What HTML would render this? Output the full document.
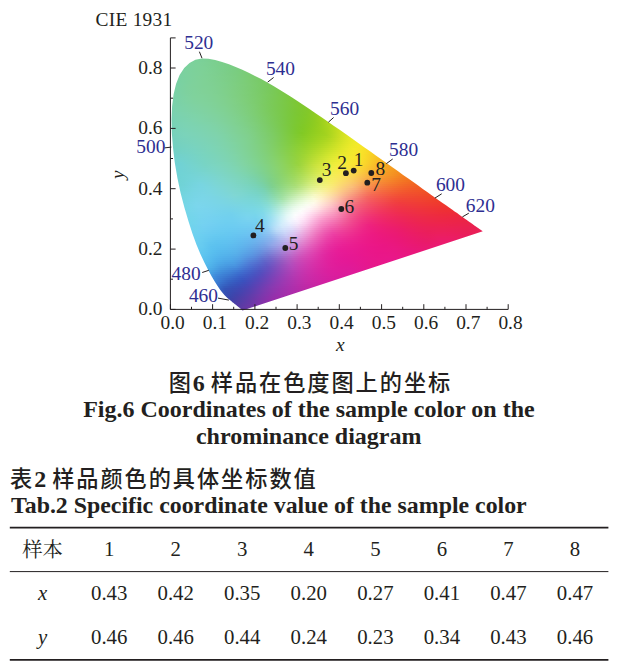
<!DOCTYPE html>
<html lang="zh"><head><meta charset="utf-8"><title>CIE 1931</title>
<style>html,body{margin:0;padding:0;background:#fff}svg{display:block}text{font-family:"Liberation Serif","Noto Serif CJK SC",serif;fill:#231f20}.c{font-size:19.4px}.n{fill:#2e2e91}.b{font-weight:bold;font-size:24px;font-family:"Liberation Serif","Noto Sans CJK SC",sans-serif}.k{font-weight:500;font-size:22.2px;letter-spacing:1.95px;font-family:"Noto Sans CJK SC",sans-serif}.t{font-size:20.8px}.i{font-style:italic}</style></head><body>
<svg width="619" height="665" viewBox="0 0 619 665">
<rect width="619" height="665" fill="#fff"/>
<defs><linearGradient id="g0" gradientUnits="userSpaceOnUse" x1="193" x2="217" y1="0" y2="0"><stop offset="0" stop-color="#7bd19b"/><stop offset="0.333" stop-color="#7bd098"/><stop offset="0.667" stop-color="#7bcf93"/><stop offset="1" stop-color="#7ace8d"/></linearGradient>
<linearGradient id="g1" gradientUnits="userSpaceOnUse" x1="189" x2="224" y1="0" y2="0"><stop offset="0" stop-color="#7bd19c"/><stop offset="0.2" stop-color="#7bd19a"/><stop offset="0.4" stop-color="#7bd097"/><stop offset="0.6" stop-color="#7bcf92"/><stop offset="0.8" stop-color="#7acf8d"/><stop offset="1" stop-color="#79cd89"/></linearGradient>
<linearGradient id="g2" gradientUnits="userSpaceOnUse" x1="186" x2="230" y1="0" y2="0"><stop offset="0" stop-color="#7bd19d"/><stop offset="0.167" stop-color="#7cd19b"/><stop offset="0.333" stop-color="#7cd198"/><stop offset="0.5" stop-color="#7cd094"/><stop offset="0.667" stop-color="#7bcf8f"/><stop offset="0.833" stop-color="#7ace8a"/><stop offset="1" stop-color="#79cd85"/></linearGradient>
<linearGradient id="g3" gradientUnits="userSpaceOnUse" x1="184" x2="235" y1="0" y2="0"><stop offset="0" stop-color="#7bd19e"/><stop offset="0.143" stop-color="#7cd19c"/><stop offset="0.286" stop-color="#7dd199"/><stop offset="0.429" stop-color="#7cd095"/><stop offset="0.571" stop-color="#7ccf90"/><stop offset="0.714" stop-color="#7bce8c"/><stop offset="0.857" stop-color="#7acd87"/><stop offset="1" stop-color="#78cc81"/></linearGradient>
<linearGradient id="g4" gradientUnits="userSpaceOnUse" x1="182" x2="240" y1="0" y2="0"><stop offset="0" stop-color="#7ad19f"/><stop offset="0.125" stop-color="#7cd19c"/><stop offset="0.25" stop-color="#7dd19a"/><stop offset="0.375" stop-color="#7dd196"/><stop offset="0.5" stop-color="#7cd092"/><stop offset="0.625" stop-color="#7bcf8d"/><stop offset="0.75" stop-color="#7ace88"/><stop offset="0.875" stop-color="#79cd83"/><stop offset="1" stop-color="#79cc7d"/></linearGradient>
<linearGradient id="g5" gradientUnits="userSpaceOnUse" x1="181" x2="245" y1="0" y2="0"><stop offset="0" stop-color="#7ad1a0"/><stop offset="0.125" stop-color="#7cd19d"/><stop offset="0.25" stop-color="#7dd199"/><stop offset="0.375" stop-color="#7dd196"/><stop offset="0.5" stop-color="#7cd091"/><stop offset="0.625" stop-color="#7bce8c"/><stop offset="0.75" stop-color="#7acd86"/><stop offset="0.875" stop-color="#79cc80"/><stop offset="1" stop-color="#79cb78"/></linearGradient>
<linearGradient id="g6" gradientUnits="userSpaceOnUse" x1="179" x2="249" y1="0" y2="0"><stop offset="0" stop-color="#7ad1a1"/><stop offset="0.111" stop-color="#7cd19e"/><stop offset="0.222" stop-color="#7dd19a"/><stop offset="0.333" stop-color="#7ed197"/><stop offset="0.444" stop-color="#7dd093"/><stop offset="0.556" stop-color="#7ccf8e"/><stop offset="0.667" stop-color="#7bce89"/><stop offset="0.778" stop-color="#7acd83"/><stop offset="0.889" stop-color="#7acc7c"/><stop offset="1" stop-color="#7acb73"/></linearGradient>
<linearGradient id="g7" gradientUnits="userSpaceOnUse" x1="178" x2="253" y1="0" y2="0"><stop offset="0" stop-color="#7ad0a1"/><stop offset="0.1" stop-color="#7cd19e"/><stop offset="0.2" stop-color="#7dd19b"/><stop offset="0.3" stop-color="#7ed198"/><stop offset="0.4" stop-color="#7ed194"/><stop offset="0.5" stop-color="#7dcf90"/><stop offset="0.6" stop-color="#7cce8b"/><stop offset="0.7" stop-color="#7bcd85"/><stop offset="0.8" stop-color="#7acd7f"/><stop offset="0.9" stop-color="#7acc77"/><stop offset="1" stop-color="#7acb6f"/></linearGradient>
<linearGradient id="g8" gradientUnits="userSpaceOnUse" x1="177" x2="257" y1="0" y2="0"><stop offset="0" stop-color="#79d0a2"/><stop offset="0.1" stop-color="#7cd19f"/><stop offset="0.2" stop-color="#7dd19b"/><stop offset="0.3" stop-color="#7ed198"/><stop offset="0.4" stop-color="#7ed093"/><stop offset="0.5" stop-color="#7dcf8f"/><stop offset="0.6" stop-color="#7cce89"/><stop offset="0.7" stop-color="#7bcd83"/><stop offset="0.8" stop-color="#7bcc7c"/><stop offset="0.9" stop-color="#7acc74"/><stop offset="1" stop-color="#79ca6b"/></linearGradient>
<linearGradient id="g9" gradientUnits="userSpaceOnUse" x1="176" x2="261" y1="0" y2="0"><stop offset="0" stop-color="#79d0a3"/><stop offset="0.091" stop-color="#7bd19f"/><stop offset="0.182" stop-color="#7dd19c"/><stop offset="0.273" stop-color="#7fd198"/><stop offset="0.364" stop-color="#7ed195"/><stop offset="0.455" stop-color="#7ed090"/><stop offset="0.545" stop-color="#7dcf8b"/><stop offset="0.636" stop-color="#7cce86"/><stop offset="0.727" stop-color="#7bcd7f"/><stop offset="0.818" stop-color="#7bcc77"/><stop offset="0.909" stop-color="#7acb6f"/><stop offset="1" stop-color="#79ca67"/></linearGradient>
<linearGradient id="g10" gradientUnits="userSpaceOnUse" x1="175" x2="265" y1="0" y2="0"><stop offset="0" stop-color="#79d0a4"/><stop offset="0.083" stop-color="#7bd1a0"/><stop offset="0.167" stop-color="#7dd19d"/><stop offset="0.25" stop-color="#7ed199"/><stop offset="0.333" stop-color="#7fd196"/><stop offset="0.417" stop-color="#7ed092"/><stop offset="0.5" stop-color="#7dcf8d"/><stop offset="0.583" stop-color="#7cce88"/><stop offset="0.667" stop-color="#7ccd82"/><stop offset="0.75" stop-color="#7bcd7b"/><stop offset="0.833" stop-color="#7bcc73"/><stop offset="0.917" stop-color="#7acb6b"/><stop offset="1" stop-color="#79c963"/></linearGradient>
<linearGradient id="g11" gradientUnits="userSpaceOnUse" x1="175" x2="268" y1="0" y2="0"><stop offset="0" stop-color="#79d0a4"/><stop offset="0.083" stop-color="#7bd1a0"/><stop offset="0.167" stop-color="#7dd19c"/><stop offset="0.25" stop-color="#7fd199"/><stop offset="0.333" stop-color="#7fd195"/><stop offset="0.417" stop-color="#7ed091"/><stop offset="0.5" stop-color="#7ecf8c"/><stop offset="0.583" stop-color="#7dce86"/><stop offset="0.667" stop-color="#7ccd80"/><stop offset="0.75" stop-color="#7ccd78"/><stop offset="0.833" stop-color="#7bcb70"/><stop offset="0.917" stop-color="#79ca68"/><stop offset="1" stop-color="#78c960"/></linearGradient>
<linearGradient id="g12" gradientUnits="userSpaceOnUse" x1="174" x2="272" y1="0" y2="0"><stop offset="0" stop-color="#78d0a5"/><stop offset="0.077" stop-color="#7bd1a1"/><stop offset="0.154" stop-color="#7dd19d"/><stop offset="0.231" stop-color="#7fd19a"/><stop offset="0.308" stop-color="#7fd196"/><stop offset="0.385" stop-color="#7fd093"/><stop offset="0.462" stop-color="#7ed08e"/><stop offset="0.538" stop-color="#7dcf89"/><stop offset="0.615" stop-color="#7dce82"/><stop offset="0.692" stop-color="#7ccd7b"/><stop offset="0.769" stop-color="#7ccc74"/><stop offset="0.846" stop-color="#7acb6c"/><stop offset="0.923" stop-color="#79ca64"/><stop offset="1" stop-color="#79c95a"/></linearGradient>
<linearGradient id="g13" gradientUnits="userSpaceOnUse" x1="173" x2="275" y1="0" y2="0"><stop offset="0" stop-color="#79d0a6"/><stop offset="0.077" stop-color="#7bd1a2"/><stop offset="0.154" stop-color="#7ed19d"/><stop offset="0.231" stop-color="#7fd19a"/><stop offset="0.308" stop-color="#7fd196"/><stop offset="0.385" stop-color="#7fd093"/><stop offset="0.462" stop-color="#7ed08e"/><stop offset="0.538" stop-color="#7ecf88"/><stop offset="0.615" stop-color="#7dce81"/><stop offset="0.692" stop-color="#7dcd7a"/><stop offset="0.769" stop-color="#7ccc72"/><stop offset="0.846" stop-color="#7acb69"/><stop offset="0.923" stop-color="#79c961"/><stop offset="1" stop-color="#79c955"/></linearGradient>
<linearGradient id="g14" gradientUnits="userSpaceOnUse" x1="173" x2="279" y1="0" y2="0"><stop offset="0" stop-color="#79d0a6"/><stop offset="0.071" stop-color="#7bd1a2"/><stop offset="0.143" stop-color="#7ed19d"/><stop offset="0.214" stop-color="#7fd19a"/><stop offset="0.286" stop-color="#7fd197"/><stop offset="0.357" stop-color="#7fd194"/><stop offset="0.429" stop-color="#7fd08f"/><stop offset="0.5" stop-color="#7ecf8a"/><stop offset="0.571" stop-color="#7ece83"/><stop offset="0.643" stop-color="#7dcd7c"/><stop offset="0.714" stop-color="#7ccc75"/><stop offset="0.786" stop-color="#7bcb6d"/><stop offset="0.857" stop-color="#79ca64"/><stop offset="0.929" stop-color="#79c95a"/><stop offset="1" stop-color="#79c84f"/></linearGradient>
<linearGradient id="g15" gradientUnits="userSpaceOnUse" x1="172" x2="282" y1="0" y2="0"><stop offset="0" stop-color="#79d0a7"/><stop offset="0.071" stop-color="#7bd1a2"/><stop offset="0.143" stop-color="#7ed19e"/><stop offset="0.214" stop-color="#7fd19b"/><stop offset="0.286" stop-color="#80d197"/><stop offset="0.357" stop-color="#7fd194"/><stop offset="0.429" stop-color="#7fd08f"/><stop offset="0.5" stop-color="#7fcf89"/><stop offset="0.571" stop-color="#7ece82"/><stop offset="0.643" stop-color="#7dcd7b"/><stop offset="0.714" stop-color="#7ccc73"/><stop offset="0.786" stop-color="#7acb6a"/><stop offset="0.857" stop-color="#79ca61"/><stop offset="0.929" stop-color="#79c956"/><stop offset="1" stop-color="#7ac84a"/></linearGradient>
<linearGradient id="g16" gradientUnits="userSpaceOnUse" x1="172" x2="285" y1="0" y2="0"><stop offset="0" stop-color="#79d1a7"/><stop offset="0.067" stop-color="#7bd1a3"/><stop offset="0.133" stop-color="#7ed19e"/><stop offset="0.2" stop-color="#7fd29b"/><stop offset="0.267" stop-color="#80d198"/><stop offset="0.333" stop-color="#80d195"/><stop offset="0.4" stop-color="#7fd091"/><stop offset="0.467" stop-color="#7fd08b"/><stop offset="0.533" stop-color="#7fcf85"/><stop offset="0.6" stop-color="#7ece7e"/><stop offset="0.667" stop-color="#7dcd76"/><stop offset="0.733" stop-color="#7bcc6e"/><stop offset="0.8" stop-color="#7aca65"/><stop offset="0.867" stop-color="#79c95c"/><stop offset="0.933" stop-color="#79c951"/><stop offset="1" stop-color="#7ac846"/></linearGradient>
<linearGradient id="g17" gradientUnits="userSpaceOnUse" x1="172" x2="289" y1="0" y2="0"><stop offset="0" stop-color="#79d1a8"/><stop offset="0.067" stop-color="#7cd1a3"/><stop offset="0.133" stop-color="#7ed19e"/><stop offset="0.2" stop-color="#7fd29b"/><stop offset="0.267" stop-color="#80d198"/><stop offset="0.333" stop-color="#80d195"/><stop offset="0.4" stop-color="#7fd090"/><stop offset="0.467" stop-color="#7fd08a"/><stop offset="0.533" stop-color="#7fcf83"/><stop offset="0.6" stop-color="#7ece7c"/><stop offset="0.667" stop-color="#7dcd74"/><stop offset="0.733" stop-color="#7bcb6b"/><stop offset="0.8" stop-color="#7aca61"/><stop offset="0.867" stop-color="#79c957"/><stop offset="0.933" stop-color="#7ac84b"/><stop offset="1" stop-color="#7bc840"/></linearGradient>
<linearGradient id="g18" gradientUnits="userSpaceOnUse" x1="171" x2="292" y1="0" y2="0"><stop offset="0" stop-color="#79d1a9"/><stop offset="0.062" stop-color="#7bd1a5"/><stop offset="0.125" stop-color="#7ed1a0"/><stop offset="0.188" stop-color="#7fd29c"/><stop offset="0.25" stop-color="#80d29a"/><stop offset="0.312" stop-color="#80d197"/><stop offset="0.375" stop-color="#80d192"/><stop offset="0.438" stop-color="#7fd08d"/><stop offset="0.5" stop-color="#7fcf86"/><stop offset="0.562" stop-color="#7fce7f"/><stop offset="0.625" stop-color="#7dcd77"/><stop offset="0.688" stop-color="#7ccc6f"/><stop offset="0.75" stop-color="#7bcb66"/><stop offset="0.812" stop-color="#7aca5c"/><stop offset="0.875" stop-color="#79c952"/><stop offset="0.938" stop-color="#7ac847"/><stop offset="1" stop-color="#7cc73c"/></linearGradient>
<linearGradient id="g19" gradientUnits="userSpaceOnUse" x1="171" x2="295" y1="0" y2="0"><stop offset="0" stop-color="#79d1a9"/><stop offset="0.062" stop-color="#7bd1a5"/><stop offset="0.125" stop-color="#7ed2a1"/><stop offset="0.188" stop-color="#80d29c"/><stop offset="0.25" stop-color="#80d29a"/><stop offset="0.312" stop-color="#80d197"/><stop offset="0.375" stop-color="#80d192"/><stop offset="0.438" stop-color="#80d08c"/><stop offset="0.5" stop-color="#7fcf85"/><stop offset="0.562" stop-color="#7fce7e"/><stop offset="0.625" stop-color="#7dcd76"/><stop offset="0.688" stop-color="#7ccc6d"/><stop offset="0.75" stop-color="#7acb63"/><stop offset="0.812" stop-color="#7ac959"/><stop offset="0.875" stop-color="#7ac94e"/><stop offset="0.938" stop-color="#7bc843"/><stop offset="1" stop-color="#7dc737"/></linearGradient>
<linearGradient id="g20" gradientUnits="userSpaceOnUse" x1="171" x2="298" y1="0" y2="0"><stop offset="0" stop-color="#79d1aa"/><stop offset="0.062" stop-color="#7cd1a6"/><stop offset="0.125" stop-color="#7ed2a1"/><stop offset="0.188" stop-color="#80d29d"/><stop offset="0.25" stop-color="#80d29b"/><stop offset="0.312" stop-color="#80d197"/><stop offset="0.375" stop-color="#80d192"/><stop offset="0.438" stop-color="#80d08c"/><stop offset="0.5" stop-color="#80cf85"/><stop offset="0.562" stop-color="#7fce7d"/><stop offset="0.625" stop-color="#7dcd74"/><stop offset="0.688" stop-color="#7ccc6b"/><stop offset="0.75" stop-color="#7aca60"/><stop offset="0.812" stop-color="#7ac955"/><stop offset="0.875" stop-color="#7ac94a"/><stop offset="0.938" stop-color="#7bc83f"/><stop offset="1" stop-color="#7ec733"/></linearGradient>
<linearGradient id="g21" gradientUnits="userSpaceOnUse" x1="171" x2="301" y1="0" y2="0"><stop offset="0" stop-color="#79d1ab"/><stop offset="0.059" stop-color="#7bd1a7"/><stop offset="0.118" stop-color="#7ed2a3"/><stop offset="0.176" stop-color="#7fd29f"/><stop offset="0.235" stop-color="#80d29c"/><stop offset="0.294" stop-color="#80d199"/><stop offset="0.353" stop-color="#80d194"/><stop offset="0.412" stop-color="#80d08f"/><stop offset="0.471" stop-color="#80d088"/><stop offset="0.529" stop-color="#7fcf80"/><stop offset="0.588" stop-color="#7ece78"/><stop offset="0.647" stop-color="#7ccc6f"/><stop offset="0.706" stop-color="#7bcb65"/><stop offset="0.765" stop-color="#7aca5a"/><stop offset="0.824" stop-color="#7ac950"/><stop offset="0.882" stop-color="#7ac845"/><stop offset="0.941" stop-color="#7cc73a"/><stop offset="1" stop-color="#7fc730"/></linearGradient>
<linearGradient id="g22" gradientUnits="userSpaceOnUse" x1="170" x2="304" y1="0" y2="0"><stop offset="0" stop-color="#79d1ac"/><stop offset="0.059" stop-color="#7bd1a8"/><stop offset="0.118" stop-color="#7dd2a4"/><stop offset="0.176" stop-color="#7fd2a0"/><stop offset="0.235" stop-color="#80d29d"/><stop offset="0.294" stop-color="#80d29a"/><stop offset="0.353" stop-color="#80d195"/><stop offset="0.412" stop-color="#80d08f"/><stop offset="0.471" stop-color="#80d088"/><stop offset="0.529" stop-color="#7fcf80"/><stop offset="0.588" stop-color="#7ecd77"/><stop offset="0.647" stop-color="#7ccc6d"/><stop offset="0.706" stop-color="#7bcb62"/><stop offset="0.765" stop-color="#7aca57"/><stop offset="0.824" stop-color="#7ac94c"/><stop offset="0.882" stop-color="#7bc841"/><stop offset="0.941" stop-color="#7cc735"/><stop offset="1" stop-color="#81c82d"/></linearGradient>
<linearGradient id="g23" gradientUnits="userSpaceOnUse" x1="170" x2="307" y1="0" y2="0"><stop offset="0" stop-color="#79d1ad"/><stop offset="0.056" stop-color="#7bd1a9"/><stop offset="0.111" stop-color="#7dd2a6"/><stop offset="0.167" stop-color="#7fd2a2"/><stop offset="0.222" stop-color="#80d29f"/><stop offset="0.278" stop-color="#80d29b"/><stop offset="0.333" stop-color="#80d197"/><stop offset="0.389" stop-color="#80d191"/><stop offset="0.444" stop-color="#80d08b"/><stop offset="0.5" stop-color="#7fcf83"/><stop offset="0.556" stop-color="#7ece7b"/><stop offset="0.611" stop-color="#7dcd72"/><stop offset="0.667" stop-color="#7ccb67"/><stop offset="0.722" stop-color="#7bca5c"/><stop offset="0.778" stop-color="#7ac952"/><stop offset="0.833" stop-color="#7ac847"/><stop offset="0.889" stop-color="#7bc83c"/><stop offset="0.944" stop-color="#7ec731"/><stop offset="1" stop-color="#83c82a"/></linearGradient>
<linearGradient id="g24" gradientUnits="userSpaceOnUse" x1="170" x2="310" y1="0" y2="0"><stop offset="0" stop-color="#79d1ad"/><stop offset="0.056" stop-color="#7bd2aa"/><stop offset="0.111" stop-color="#7dd2a7"/><stop offset="0.167" stop-color="#7fd2a3"/><stop offset="0.222" stop-color="#80d2a0"/><stop offset="0.278" stop-color="#80d29c"/><stop offset="0.333" stop-color="#80d197"/><stop offset="0.389" stop-color="#80d192"/><stop offset="0.444" stop-color="#80d08a"/><stop offset="0.5" stop-color="#7fcf83"/><stop offset="0.556" stop-color="#7ece7a"/><stop offset="0.611" stop-color="#7dcd70"/><stop offset="0.667" stop-color="#7ccb65"/><stop offset="0.722" stop-color="#7aca59"/><stop offset="0.778" stop-color="#7ac94e"/><stop offset="0.833" stop-color="#7ac843"/><stop offset="0.889" stop-color="#7cc738"/><stop offset="0.944" stop-color="#7fc72e"/><stop offset="1" stop-color="#86c928"/></linearGradient>
<linearGradient id="g25" gradientUnits="userSpaceOnUse" x1="170" x2="313" y1="0" y2="0"><stop offset="0" stop-color="#79d1ae"/><stop offset="0.056" stop-color="#7bd2ab"/><stop offset="0.111" stop-color="#7dd2a8"/><stop offset="0.167" stop-color="#7fd2a4"/><stop offset="0.222" stop-color="#80d2a1"/><stop offset="0.278" stop-color="#80d29d"/><stop offset="0.333" stop-color="#80d198"/><stop offset="0.389" stop-color="#80d192"/><stop offset="0.444" stop-color="#80d08a"/><stop offset="0.5" stop-color="#7fcf82"/><stop offset="0.556" stop-color="#7ece79"/><stop offset="0.611" stop-color="#7dcc6e"/><stop offset="0.667" stop-color="#7bcb62"/><stop offset="0.722" stop-color="#7aca56"/><stop offset="0.778" stop-color="#7ac94b"/><stop offset="0.833" stop-color="#7ac83f"/><stop offset="0.889" stop-color="#7cc734"/><stop offset="0.944" stop-color="#81c82b"/><stop offset="1" stop-color="#8aca26"/></linearGradient>
<linearGradient id="g26" gradientUnits="userSpaceOnUse" x1="170" x2="316" y1="0" y2="0"><stop offset="0" stop-color="#79d1af"/><stop offset="0.053" stop-color="#7bd2ac"/><stop offset="0.105" stop-color="#7dd2a9"/><stop offset="0.158" stop-color="#7ed2a6"/><stop offset="0.211" stop-color="#7fd2a3"/><stop offset="0.263" stop-color="#80d29f"/><stop offset="0.316" stop-color="#80d29a"/><stop offset="0.368" stop-color="#80d194"/><stop offset="0.421" stop-color="#80d08e"/><stop offset="0.474" stop-color="#7fcf86"/><stop offset="0.526" stop-color="#7ece7d"/><stop offset="0.579" stop-color="#7dcd73"/><stop offset="0.632" stop-color="#7ccc67"/><stop offset="0.684" stop-color="#7bca5b"/><stop offset="0.737" stop-color="#7ac950"/><stop offset="0.789" stop-color="#7ac845"/><stop offset="0.842" stop-color="#7bc739"/><stop offset="0.895" stop-color="#7ec72f"/><stop offset="0.947" stop-color="#83c829"/><stop offset="1" stop-color="#8fcc23"/></linearGradient>
<linearGradient id="g27" gradientUnits="userSpaceOnUse" x1="170" x2="319" y1="0" y2="0"><stop offset="0" stop-color="#78d1b0"/><stop offset="0.053" stop-color="#7bd2ae"/><stop offset="0.105" stop-color="#7dd2ab"/><stop offset="0.158" stop-color="#7ed3a7"/><stop offset="0.211" stop-color="#7fd2a4"/><stop offset="0.263" stop-color="#80d2a0"/><stop offset="0.316" stop-color="#80d29b"/><stop offset="0.368" stop-color="#80d195"/><stop offset="0.421" stop-color="#80d08e"/><stop offset="0.474" stop-color="#7fcf85"/><stop offset="0.526" stop-color="#7ece7c"/><stop offset="0.579" stop-color="#7dcd71"/><stop offset="0.632" stop-color="#7ccb65"/><stop offset="0.684" stop-color="#7bca59"/><stop offset="0.737" stop-color="#7ac94d"/><stop offset="0.789" stop-color="#7ac841"/><stop offset="0.842" stop-color="#7bc735"/><stop offset="0.895" stop-color="#7fc82c"/><stop offset="0.947" stop-color="#86c926"/><stop offset="1" stop-color="#95ce21"/></linearGradient>
<linearGradient id="g28" gradientUnits="userSpaceOnUse" x1="170" x2="322" y1="0" y2="0"><stop offset="0" stop-color="#78d1b1"/><stop offset="0.053" stop-color="#7bd2af"/><stop offset="0.105" stop-color="#7dd2ac"/><stop offset="0.158" stop-color="#7ed3a9"/><stop offset="0.211" stop-color="#7fd3a5"/><stop offset="0.263" stop-color="#80d2a1"/><stop offset="0.316" stop-color="#80d29c"/><stop offset="0.368" stop-color="#80d195"/><stop offset="0.421" stop-color="#80d08e"/><stop offset="0.474" stop-color="#7fcf85"/><stop offset="0.526" stop-color="#7ece7b"/><stop offset="0.579" stop-color="#7dcd6f"/><stop offset="0.632" stop-color="#7ccb63"/><stop offset="0.684" stop-color="#7bca56"/><stop offset="0.737" stop-color="#7ac94a"/><stop offset="0.789" stop-color="#7ac83d"/><stop offset="0.842" stop-color="#7cc731"/><stop offset="0.895" stop-color="#81c829"/><stop offset="0.947" stop-color="#8ccb23"/><stop offset="1" stop-color="#9cd020"/></linearGradient>
<linearGradient id="g29" gradientUnits="userSpaceOnUse" x1="170" x2="325" y1="0" y2="0"><stop offset="0" stop-color="#78d1b2"/><stop offset="0.05" stop-color="#7ad2b0"/><stop offset="0.1" stop-color="#7cd2ad"/><stop offset="0.15" stop-color="#7ed3aa"/><stop offset="0.2" stop-color="#7fd3a7"/><stop offset="0.25" stop-color="#80d2a3"/><stop offset="0.3" stop-color="#80d29e"/><stop offset="0.35" stop-color="#80d198"/><stop offset="0.4" stop-color="#80d191"/><stop offset="0.45" stop-color="#7fd089"/><stop offset="0.5" stop-color="#7ecf80"/><stop offset="0.55" stop-color="#7dcd75"/><stop offset="0.6" stop-color="#7ccc69"/><stop offset="0.65" stop-color="#7bcb5c"/><stop offset="0.7" stop-color="#7ac950"/><stop offset="0.75" stop-color="#7ac843"/><stop offset="0.8" stop-color="#7bc836"/><stop offset="0.85" stop-color="#7ec82c"/><stop offset="0.9" stop-color="#85c926"/><stop offset="0.95" stop-color="#92cd21"/><stop offset="1" stop-color="#a4d31f"/></linearGradient>
<linearGradient id="g30" gradientUnits="userSpaceOnUse" x1="170" x2="328" y1="0" y2="0"><stop offset="0" stop-color="#78d1b3"/><stop offset="0.05" stop-color="#7ad2b1"/><stop offset="0.1" stop-color="#7cd2af"/><stop offset="0.15" stop-color="#7ed3ac"/><stop offset="0.2" stop-color="#7fd3a8"/><stop offset="0.25" stop-color="#7fd2a4"/><stop offset="0.3" stop-color="#80d29f"/><stop offset="0.35" stop-color="#80d199"/><stop offset="0.4" stop-color="#80d191"/><stop offset="0.45" stop-color="#7fd089"/><stop offset="0.5" stop-color="#7ece7f"/><stop offset="0.55" stop-color="#7dcd74"/><stop offset="0.6" stop-color="#7ccc67"/><stop offset="0.65" stop-color="#7bca5a"/><stop offset="0.7" stop-color="#7ac94d"/><stop offset="0.75" stop-color="#7ac83f"/><stop offset="0.8" stop-color="#7cc832"/><stop offset="0.85" stop-color="#80c829"/><stop offset="0.9" stop-color="#89ca23"/><stop offset="0.95" stop-color="#99cf1f"/><stop offset="1" stop-color="#acd61e"/></linearGradient>
<linearGradient id="g31" gradientUnits="userSpaceOnUse" x1="170" x2="330" y1="0" y2="0"><stop offset="0" stop-color="#78d1b4"/><stop offset="0.05" stop-color="#7ad2b2"/><stop offset="0.1" stop-color="#7cd3b0"/><stop offset="0.15" stop-color="#7ed3ad"/><stop offset="0.2" stop-color="#7fd3a9"/><stop offset="0.25" stop-color="#7fd2a5"/><stop offset="0.3" stop-color="#80d2a0"/><stop offset="0.35" stop-color="#80d199"/><stop offset="0.4" stop-color="#80d192"/><stop offset="0.45" stop-color="#7fd089"/><stop offset="0.5" stop-color="#7ece7f"/><stop offset="0.55" stop-color="#7dcd73"/><stop offset="0.6" stop-color="#7ccc66"/><stop offset="0.65" stop-color="#7bca59"/><stop offset="0.7" stop-color="#7ac94b"/><stop offset="0.75" stop-color="#7ac83c"/><stop offset="0.8" stop-color="#7cc82f"/><stop offset="0.85" stop-color="#82c927"/><stop offset="0.9" stop-color="#8dcb21"/><stop offset="0.95" stop-color="#9dd01e"/><stop offset="1" stop-color="#b0d71e"/></linearGradient>
<linearGradient id="g32" gradientUnits="userSpaceOnUse" x1="170" x2="333" y1="0" y2="0"><stop offset="0" stop-color="#77d1b5"/><stop offset="0.048" stop-color="#7ad2b4"/><stop offset="0.095" stop-color="#7cd3b2"/><stop offset="0.143" stop-color="#7dd3af"/><stop offset="0.19" stop-color="#7ed3ab"/><stop offset="0.238" stop-color="#7fd3a8"/><stop offset="0.286" stop-color="#80d2a3"/><stop offset="0.333" stop-color="#80d29c"/><stop offset="0.381" stop-color="#80d195"/><stop offset="0.429" stop-color="#7fd08d"/><stop offset="0.476" stop-color="#7fcf84"/><stop offset="0.524" stop-color="#7ece79"/><stop offset="0.571" stop-color="#7dcc6c"/><stop offset="0.619" stop-color="#7bcb5f"/><stop offset="0.667" stop-color="#7bca51"/><stop offset="0.714" stop-color="#7ac943"/><stop offset="0.762" stop-color="#7bc835"/><stop offset="0.81" stop-color="#7fc82a"/><stop offset="0.857" stop-color="#87ca23"/><stop offset="0.905" stop-color="#93cd1f"/><stop offset="0.952" stop-color="#a5d31e"/><stop offset="1" stop-color="#b6d91e"/></linearGradient>
<linearGradient id="g33" gradientUnits="userSpaceOnUse" x1="170" x2="336" y1="0" y2="0"><stop offset="0" stop-color="#77d1b6"/><stop offset="0.048" stop-color="#7ad2b5"/><stop offset="0.095" stop-color="#7cd3b3"/><stop offset="0.143" stop-color="#7dd3b0"/><stop offset="0.19" stop-color="#7ed3ad"/><stop offset="0.238" stop-color="#7fd3a9"/><stop offset="0.286" stop-color="#80d2a4"/><stop offset="0.333" stop-color="#80d29d"/><stop offset="0.381" stop-color="#80d195"/><stop offset="0.429" stop-color="#7fd08d"/><stop offset="0.476" stop-color="#7fcf83"/><stop offset="0.524" stop-color="#7ece78"/><stop offset="0.571" stop-color="#7dcc6b"/><stop offset="0.619" stop-color="#7bcb5d"/><stop offset="0.667" stop-color="#7bc94e"/><stop offset="0.714" stop-color="#7bc83f"/><stop offset="0.762" stop-color="#7cc830"/><stop offset="0.81" stop-color="#81c926"/><stop offset="0.857" stop-color="#8bcb21"/><stop offset="0.905" stop-color="#99cf1e"/><stop offset="0.952" stop-color="#abd51e"/><stop offset="1" stop-color="#bddb1f"/></linearGradient>
<linearGradient id="g34" gradientUnits="userSpaceOnUse" x1="170" x2="339" y1="0" y2="0"><stop offset="0" stop-color="#77d1b7"/><stop offset="0.045" stop-color="#79d2b6"/><stop offset="0.091" stop-color="#7cd3b4"/><stop offset="0.136" stop-color="#7dd3b2"/><stop offset="0.182" stop-color="#7ed3af"/><stop offset="0.227" stop-color="#7fd3ab"/><stop offset="0.273" stop-color="#7fd3a6"/><stop offset="0.318" stop-color="#80d2a0"/><stop offset="0.364" stop-color="#80d199"/><stop offset="0.409" stop-color="#80d191"/><stop offset="0.455" stop-color="#7fcf88"/><stop offset="0.5" stop-color="#7ece7d"/><stop offset="0.545" stop-color="#7dcd71"/><stop offset="0.591" stop-color="#7ccb64"/><stop offset="0.636" stop-color="#7bca55"/><stop offset="0.682" stop-color="#7bc946"/><stop offset="0.727" stop-color="#7bc836"/><stop offset="0.773" stop-color="#7ec829"/><stop offset="0.818" stop-color="#86ca23"/><stop offset="0.864" stop-color="#92cd1f"/><stop offset="0.909" stop-color="#a0d21e"/><stop offset="0.955" stop-color="#b1d71e"/><stop offset="1" stop-color="#c4dd20"/></linearGradient>
<linearGradient id="g35" gradientUnits="userSpaceOnUse" x1="170" x2="342" y1="0" y2="0"><stop offset="0" stop-color="#76d1b8"/><stop offset="0.045" stop-color="#79d2b7"/><stop offset="0.091" stop-color="#7bd3b6"/><stop offset="0.136" stop-color="#7dd3b3"/><stop offset="0.182" stop-color="#7ed3b0"/><stop offset="0.227" stop-color="#7fd3ac"/><stop offset="0.273" stop-color="#7fd3a7"/><stop offset="0.318" stop-color="#80d2a1"/><stop offset="0.364" stop-color="#80d199"/><stop offset="0.409" stop-color="#80d191"/><stop offset="0.455" stop-color="#7fd088"/><stop offset="0.5" stop-color="#7ece7c"/><stop offset="0.545" stop-color="#7dcd6f"/><stop offset="0.591" stop-color="#7ccb62"/><stop offset="0.636" stop-color="#7bca53"/><stop offset="0.682" stop-color="#7bc942"/><stop offset="0.727" stop-color="#7cc832"/><stop offset="0.773" stop-color="#80c926"/><stop offset="0.818" stop-color="#8bcb21"/><stop offset="0.864" stop-color="#97cf1e"/><stop offset="0.909" stop-color="#a5d31e"/><stop offset="0.955" stop-color="#b8d91f"/><stop offset="1" stop-color="#cde022"/></linearGradient>
<linearGradient id="g36" gradientUnits="userSpaceOnUse" x1="170" x2="345" y1="0" y2="0"><stop offset="0" stop-color="#76d1b9"/><stop offset="0.045" stop-color="#79d2b9"/><stop offset="0.091" stop-color="#7bd3b7"/><stop offset="0.136" stop-color="#7cd3b4"/><stop offset="0.182" stop-color="#7dd3b1"/><stop offset="0.227" stop-color="#7ed3ad"/><stop offset="0.273" stop-color="#7fd3a8"/><stop offset="0.318" stop-color="#80d2a1"/><stop offset="0.364" stop-color="#80d199"/><stop offset="0.409" stop-color="#80d191"/><stop offset="0.455" stop-color="#7fd088"/><stop offset="0.5" stop-color="#7ece7b"/><stop offset="0.545" stop-color="#7dcd6e"/><stop offset="0.591" stop-color="#7ccb60"/><stop offset="0.636" stop-color="#7cca4f"/><stop offset="0.682" stop-color="#7cc93e"/><stop offset="0.727" stop-color="#7dc92d"/><stop offset="0.773" stop-color="#84ca24"/><stop offset="0.818" stop-color="#8fcd20"/><stop offset="0.864" stop-color="#9bd01e"/><stop offset="0.909" stop-color="#aad51e"/><stop offset="0.955" stop-color="#c1dc20"/><stop offset="1" stop-color="#d5e323"/></linearGradient>
<linearGradient id="g37" gradientUnits="userSpaceOnUse" x1="170" x2="348" y1="0" y2="0"><stop offset="0" stop-color="#76d1ba"/><stop offset="0.043" stop-color="#79d2ba"/><stop offset="0.087" stop-color="#7bd3b9"/><stop offset="0.13" stop-color="#7cd3b6"/><stop offset="0.174" stop-color="#7dd3b3"/><stop offset="0.217" stop-color="#7ed3af"/><stop offset="0.261" stop-color="#7fd3ab"/><stop offset="0.304" stop-color="#7fd2a4"/><stop offset="0.348" stop-color="#80d29c"/><stop offset="0.391" stop-color="#80d194"/><stop offset="0.435" stop-color="#80d08c"/><stop offset="0.478" stop-color="#7fcf81"/><stop offset="0.522" stop-color="#7ecd74"/><stop offset="0.565" stop-color="#7dcc67"/><stop offset="0.609" stop-color="#7ccb57"/><stop offset="0.652" stop-color="#7dca45"/><stop offset="0.696" stop-color="#7dc934"/><stop offset="0.739" stop-color="#80c925"/><stop offset="0.783" stop-color="#8bcc22"/><stop offset="0.826" stop-color="#96cf1f"/><stop offset="0.87" stop-color="#a1d21e"/><stop offset="0.913" stop-color="#b3d81f"/><stop offset="0.957" stop-color="#cbdf22"/><stop offset="1" stop-color="#dce524"/></linearGradient>
<linearGradient id="g38" gradientUnits="userSpaceOnUse" x1="170" x2="350" y1="0" y2="0"><stop offset="0" stop-color="#75d0bb"/><stop offset="0.043" stop-color="#78d2bb"/><stop offset="0.087" stop-color="#7bd3ba"/><stop offset="0.13" stop-color="#7cd3b7"/><stop offset="0.174" stop-color="#7dd3b4"/><stop offset="0.217" stop-color="#7ed3b0"/><stop offset="0.261" stop-color="#7fd3ac"/><stop offset="0.304" stop-color="#7fd3a5"/><stop offset="0.348" stop-color="#80d29d"/><stop offset="0.391" stop-color="#80d195"/><stop offset="0.435" stop-color="#80d08d"/><stop offset="0.478" stop-color="#7fcf80"/><stop offset="0.522" stop-color="#7ecd73"/><stop offset="0.565" stop-color="#7dcc66"/><stop offset="0.609" stop-color="#7dcb55"/><stop offset="0.652" stop-color="#7eca43"/><stop offset="0.696" stop-color="#7fca32"/><stop offset="0.739" stop-color="#84ca25"/><stop offset="0.783" stop-color="#8fce22"/><stop offset="0.826" stop-color="#9ad120"/><stop offset="0.87" stop-color="#a4d31f"/><stop offset="0.913" stop-color="#bada21"/><stop offset="0.957" stop-color="#d1e123"/><stop offset="1" stop-color="#e1e725"/></linearGradient>
<linearGradient id="g39" gradientUnits="userSpaceOnUse" x1="170" x2="353" y1="0" y2="0"><stop offset="0" stop-color="#74d0bc"/><stop offset="0.043" stop-color="#78d2bc"/><stop offset="0.087" stop-color="#7ad3bb"/><stop offset="0.13" stop-color="#7bd3b8"/><stop offset="0.174" stop-color="#7dd3b5"/><stop offset="0.217" stop-color="#7ed3b1"/><stop offset="0.261" stop-color="#7fd3ad"/><stop offset="0.304" stop-color="#7fd3a5"/><stop offset="0.348" stop-color="#80d29d"/><stop offset="0.391" stop-color="#80d195"/><stop offset="0.435" stop-color="#80d08c"/><stop offset="0.478" stop-color="#7fcf7f"/><stop offset="0.522" stop-color="#7ecd72"/><stop offset="0.565" stop-color="#7ecc64"/><stop offset="0.609" stop-color="#7ecb52"/><stop offset="0.652" stop-color="#7fcb3f"/><stop offset="0.696" stop-color="#81ca2f"/><stop offset="0.739" stop-color="#89cc25"/><stop offset="0.783" stop-color="#95cf22"/><stop offset="0.826" stop-color="#a0d320"/><stop offset="0.87" stop-color="#acd620"/><stop offset="0.913" stop-color="#c3dc22"/><stop offset="0.957" stop-color="#d9e425"/><stop offset="1" stop-color="#e8e926"/></linearGradient>
<linearGradient id="g40" gradientUnits="userSpaceOnUse" x1="170" x2="356" y1="0" y2="0"><stop offset="0" stop-color="#74d0bd"/><stop offset="0.042" stop-color="#77d1bd"/><stop offset="0.083" stop-color="#79d2bc"/><stop offset="0.125" stop-color="#7bd3ba"/><stop offset="0.167" stop-color="#7cd3b7"/><stop offset="0.208" stop-color="#7dd3b3"/><stop offset="0.25" stop-color="#7ed3af"/><stop offset="0.292" stop-color="#7fd3a8"/><stop offset="0.333" stop-color="#7fd2a0"/><stop offset="0.375" stop-color="#80d298"/><stop offset="0.417" stop-color="#80d18f"/><stop offset="0.458" stop-color="#7fcf84"/><stop offset="0.5" stop-color="#7fce77"/><stop offset="0.542" stop-color="#7ecd69"/><stop offset="0.583" stop-color="#7ecc59"/><stop offset="0.625" stop-color="#7fcb47"/><stop offset="0.667" stop-color="#82cb36"/><stop offset="0.708" stop-color="#87cc2a"/><stop offset="0.75" stop-color="#91cf24"/><stop offset="0.792" stop-color="#9dd221"/><stop offset="0.833" stop-color="#a8d521"/><stop offset="0.875" stop-color="#bada22"/><stop offset="0.917" stop-color="#cfe024"/><stop offset="0.958" stop-color="#e1e726"/><stop offset="1" stop-color="#edea27"/></linearGradient>
<linearGradient id="g41" gradientUnits="userSpaceOnUse" x1="170" x2="359" y1="0" y2="0"><stop offset="0" stop-color="#73d0be"/><stop offset="0.042" stop-color="#76d1be"/><stop offset="0.083" stop-color="#79d2bd"/><stop offset="0.125" stop-color="#7ad3bb"/><stop offset="0.167" stop-color="#7cd3b8"/><stop offset="0.208" stop-color="#7dd3b4"/><stop offset="0.25" stop-color="#7ed3af"/><stop offset="0.292" stop-color="#7fd3a8"/><stop offset="0.333" stop-color="#80d2a0"/><stop offset="0.375" stop-color="#80d298"/><stop offset="0.417" stop-color="#80d18f"/><stop offset="0.458" stop-color="#7fd083"/><stop offset="0.5" stop-color="#7fce75"/><stop offset="0.542" stop-color="#7fcd67"/><stop offset="0.583" stop-color="#7fcc56"/><stop offset="0.625" stop-color="#81cc44"/><stop offset="0.667" stop-color="#85cc34"/><stop offset="0.708" stop-color="#8cce29"/><stop offset="0.75" stop-color="#97d124"/><stop offset="0.792" stop-color="#a4d522"/><stop offset="0.833" stop-color="#b1d822"/><stop offset="0.875" stop-color="#c4dd23"/><stop offset="0.917" stop-color="#d8e426"/><stop offset="0.958" stop-color="#e8e928"/><stop offset="1" stop-color="#f2ea28"/></linearGradient>
<linearGradient id="g42" gradientUnits="userSpaceOnUse" x1="170" x2="362" y1="0" y2="0"><stop offset="0" stop-color="#72d0bf"/><stop offset="0.042" stop-color="#75d1bf"/><stop offset="0.083" stop-color="#78d2be"/><stop offset="0.125" stop-color="#7ad3bc"/><stop offset="0.167" stop-color="#7bd3b9"/><stop offset="0.208" stop-color="#7dd3b5"/><stop offset="0.25" stop-color="#7ed3b0"/><stop offset="0.292" stop-color="#7fd3a9"/><stop offset="0.333" stop-color="#80d3a1"/><stop offset="0.375" stop-color="#80d298"/><stop offset="0.417" stop-color="#80d18e"/><stop offset="0.458" stop-color="#7fd081"/><stop offset="0.5" stop-color="#7fce73"/><stop offset="0.542" stop-color="#80cd64"/><stop offset="0.583" stop-color="#81cd52"/><stop offset="0.625" stop-color="#83cc41"/><stop offset="0.667" stop-color="#88cd32"/><stop offset="0.708" stop-color="#92d029"/><stop offset="0.75" stop-color="#9ed324"/><stop offset="0.792" stop-color="#abd723"/><stop offset="0.833" stop-color="#bbdc24"/><stop offset="0.875" stop-color="#cee125"/><stop offset="0.917" stop-color="#e0e727"/><stop offset="0.958" stop-color="#eeea29"/><stop offset="1" stop-color="#f5e727"/></linearGradient>
<linearGradient id="g43" gradientUnits="userSpaceOnUse" x1="171" x2="365" y1="0" y2="0"><stop offset="0" stop-color="#72d0bf"/><stop offset="0.04" stop-color="#75d1c0"/><stop offset="0.08" stop-color="#77d2c0"/><stop offset="0.12" stop-color="#79d3bd"/><stop offset="0.16" stop-color="#7bd3ba"/><stop offset="0.2" stop-color="#7cd4b6"/><stop offset="0.24" stop-color="#7ed3b1"/><stop offset="0.28" stop-color="#7fd3aa"/><stop offset="0.32" stop-color="#7fd3a3"/><stop offset="0.36" stop-color="#80d29a"/><stop offset="0.4" stop-color="#80d190"/><stop offset="0.44" stop-color="#80d085"/><stop offset="0.48" stop-color="#80cf78"/><stop offset="0.52" stop-color="#80ce69"/><stop offset="0.56" stop-color="#81cd58"/><stop offset="0.6" stop-color="#83cd47"/><stop offset="0.64" stop-color="#88ce38"/><stop offset="0.68" stop-color="#90cf2d"/><stop offset="0.72" stop-color="#9cd327"/><stop offset="0.76" stop-color="#a9d725"/><stop offset="0.8" stop-color="#b7db25"/><stop offset="0.84" stop-color="#c8e026"/><stop offset="0.88" stop-color="#dae527"/><stop offset="0.92" stop-color="#e9e929"/><stop offset="0.96" stop-color="#f3ea29"/><stop offset="1" stop-color="#f7e327"/></linearGradient>
<linearGradient id="g44" gradientUnits="userSpaceOnUse" x1="171" x2="367" y1="0" y2="0"><stop offset="0" stop-color="#71d0c1"/><stop offset="0.04" stop-color="#74d1c1"/><stop offset="0.08" stop-color="#77d2c1"/><stop offset="0.12" stop-color="#79d3bf"/><stop offset="0.16" stop-color="#7bd3bb"/><stop offset="0.2" stop-color="#7cd4b7"/><stop offset="0.24" stop-color="#7ed4b2"/><stop offset="0.28" stop-color="#7fd3ab"/><stop offset="0.32" stop-color="#7fd3a3"/><stop offset="0.36" stop-color="#80d29a"/><stop offset="0.4" stop-color="#80d190"/><stop offset="0.44" stop-color="#80d084"/><stop offset="0.48" stop-color="#80cf77"/><stop offset="0.52" stop-color="#81ce68"/><stop offset="0.56" stop-color="#82ce57"/><stop offset="0.6" stop-color="#85ce46"/><stop offset="0.64" stop-color="#8bcf37"/><stop offset="0.68" stop-color="#94d12d"/><stop offset="0.72" stop-color="#a1d528"/><stop offset="0.76" stop-color="#afd926"/><stop offset="0.8" stop-color="#bede26"/><stop offset="0.84" stop-color="#cfe227"/><stop offset="0.88" stop-color="#e0e729"/><stop offset="0.92" stop-color="#eeea2a"/><stop offset="0.96" stop-color="#f6e829"/><stop offset="1" stop-color="#f8df26"/></linearGradient>
<linearGradient id="g45" gradientUnits="userSpaceOnUse" x1="171" x2="370" y1="0" y2="0"><stop offset="0" stop-color="#71d0c3"/><stop offset="0.04" stop-color="#73d1c3"/><stop offset="0.08" stop-color="#76d2c3"/><stop offset="0.12" stop-color="#78d3c0"/><stop offset="0.16" stop-color="#7ad3bc"/><stop offset="0.2" stop-color="#7cd4b8"/><stop offset="0.24" stop-color="#7dd4b2"/><stop offset="0.28" stop-color="#7fd3ac"/><stop offset="0.32" stop-color="#80d3a3"/><stop offset="0.36" stop-color="#80d29a"/><stop offset="0.4" stop-color="#80d18f"/><stop offset="0.44" stop-color="#80d083"/><stop offset="0.48" stop-color="#80cf75"/><stop offset="0.52" stop-color="#82cf65"/><stop offset="0.56" stop-color="#84ce54"/><stop offset="0.6" stop-color="#88ce43"/><stop offset="0.64" stop-color="#8fd035"/><stop offset="0.68" stop-color="#9ad32d"/><stop offset="0.72" stop-color="#a9d729"/><stop offset="0.76" stop-color="#b8dc28"/><stop offset="0.8" stop-color="#c8e128"/><stop offset="0.84" stop-color="#d8e529"/><stop offset="0.88" stop-color="#e8e92b"/><stop offset="0.92" stop-color="#f4ea2c"/><stop offset="0.96" stop-color="#f7e428"/><stop offset="1" stop-color="#f8d825"/></linearGradient>
<linearGradient id="g46" gradientUnits="userSpaceOnUse" x1="171" x2="373" y1="0" y2="0"><stop offset="0" stop-color="#71d0c5"/><stop offset="0.038" stop-color="#73d1c5"/><stop offset="0.077" stop-color="#76d2c4"/><stop offset="0.115" stop-color="#78d3c2"/><stop offset="0.154" stop-color="#7ad3be"/><stop offset="0.192" stop-color="#7cd4b9"/><stop offset="0.231" stop-color="#7dd4b4"/><stop offset="0.269" stop-color="#7ed4ae"/><stop offset="0.308" stop-color="#7fd3a6"/><stop offset="0.346" stop-color="#80d39d"/><stop offset="0.385" stop-color="#80d293"/><stop offset="0.423" stop-color="#80d188"/><stop offset="0.462" stop-color="#81d07a"/><stop offset="0.5" stop-color="#82cf6c"/><stop offset="0.538" stop-color="#84cf5b"/><stop offset="0.577" stop-color="#87cf4a"/><stop offset="0.615" stop-color="#8dd03b"/><stop offset="0.654" stop-color="#98d231"/><stop offset="0.692" stop-color="#a6d72c"/><stop offset="0.731" stop-color="#b5db2a"/><stop offset="0.769" stop-color="#c4e02a"/><stop offset="0.808" stop-color="#d4e52b"/><stop offset="0.846" stop-color="#e3e82b"/><stop offset="0.885" stop-color="#efea2c"/><stop offset="0.923" stop-color="#f6e82a"/><stop offset="0.962" stop-color="#f8de27"/><stop offset="1" stop-color="#f8d024"/></linearGradient>
<linearGradient id="g47" gradientUnits="userSpaceOnUse" x1="171" x2="376" y1="0" y2="0"><stop offset="0" stop-color="#70d0c7"/><stop offset="0.038" stop-color="#73d1c7"/><stop offset="0.077" stop-color="#75d2c6"/><stop offset="0.115" stop-color="#78d3c3"/><stop offset="0.154" stop-color="#7ad4bf"/><stop offset="0.192" stop-color="#7bd4ba"/><stop offset="0.231" stop-color="#7dd4b5"/><stop offset="0.269" stop-color="#7ed4af"/><stop offset="0.308" stop-color="#7fd3a7"/><stop offset="0.346" stop-color="#80d39d"/><stop offset="0.385" stop-color="#80d293"/><stop offset="0.423" stop-color="#80d187"/><stop offset="0.462" stop-color="#81d079"/><stop offset="0.5" stop-color="#83d06a"/><stop offset="0.538" stop-color="#86cf59"/><stop offset="0.577" stop-color="#8acf48"/><stop offset="0.615" stop-color="#91d139"/><stop offset="0.654" stop-color="#9dd431"/><stop offset="0.692" stop-color="#add92d"/><stop offset="0.731" stop-color="#bdde2c"/><stop offset="0.769" stop-color="#cde42c"/><stop offset="0.808" stop-color="#dde72d"/><stop offset="0.846" stop-color="#eaea2d"/><stop offset="0.885" stop-color="#f3ea2c"/><stop offset="0.923" stop-color="#f8e429"/><stop offset="0.962" stop-color="#f8d826"/><stop offset="1" stop-color="#f8ca23"/></linearGradient>
<linearGradient id="g48" gradientUnits="userSpaceOnUse" x1="172" x2="379" y1="0" y2="0"><stop offset="0" stop-color="#70d0c9"/><stop offset="0.038" stop-color="#73d1ca"/><stop offset="0.077" stop-color="#75d2c8"/><stop offset="0.115" stop-color="#77d3c4"/><stop offset="0.154" stop-color="#79d4bf"/><stop offset="0.192" stop-color="#7bd4bb"/><stop offset="0.231" stop-color="#7dd4b5"/><stop offset="0.269" stop-color="#7ed4af"/><stop offset="0.308" stop-color="#80d4a6"/><stop offset="0.346" stop-color="#80d39c"/><stop offset="0.385" stop-color="#80d291"/><stop offset="0.423" stop-color="#80d185"/><stop offset="0.462" stop-color="#82d077"/><stop offset="0.5" stop-color="#84d067"/><stop offset="0.538" stop-color="#87d056"/><stop offset="0.577" stop-color="#8cd044"/><stop offset="0.615" stop-color="#96d237"/><stop offset="0.654" stop-color="#a5d731"/><stop offset="0.692" stop-color="#b6dc2f"/><stop offset="0.731" stop-color="#c6e22e"/><stop offset="0.769" stop-color="#d7e72e"/><stop offset="0.808" stop-color="#e5ea2f"/><stop offset="0.846" stop-color="#efea2e"/><stop offset="0.885" stop-color="#f6e82c"/><stop offset="0.923" stop-color="#f8df28"/><stop offset="0.962" stop-color="#f8d125"/><stop offset="1" stop-color="#f8c322"/></linearGradient>
<linearGradient id="g49" gradientUnits="userSpaceOnUse" x1="172" x2="381" y1="0" y2="0"><stop offset="0" stop-color="#70d1cc"/><stop offset="0.037" stop-color="#72d1cc"/><stop offset="0.074" stop-color="#75d2ca"/><stop offset="0.111" stop-color="#77d3c6"/><stop offset="0.148" stop-color="#79d4c1"/><stop offset="0.185" stop-color="#7bd4bc"/><stop offset="0.222" stop-color="#7dd4b8"/><stop offset="0.259" stop-color="#7ed4b1"/><stop offset="0.296" stop-color="#7fd4aa"/><stop offset="0.333" stop-color="#80d3a0"/><stop offset="0.37" stop-color="#80d296"/><stop offset="0.407" stop-color="#80d28a"/><stop offset="0.444" stop-color="#81d17d"/><stop offset="0.481" stop-color="#84d16f"/><stop offset="0.519" stop-color="#87d15e"/><stop offset="0.556" stop-color="#8bd14d"/><stop offset="0.593" stop-color="#92d13e"/><stop offset="0.63" stop-color="#9fd535"/><stop offset="0.667" stop-color="#b1da32"/><stop offset="0.704" stop-color="#c2e031"/><stop offset="0.741" stop-color="#d2e631"/><stop offset="0.778" stop-color="#e1ea31"/><stop offset="0.815" stop-color="#eceb31"/><stop offset="0.852" stop-color="#f4ea2f"/><stop offset="0.889" stop-color="#f8e52b"/><stop offset="0.926" stop-color="#f9da28"/><stop offset="0.963" stop-color="#f8cb25"/><stop offset="1" stop-color="#f7bc22"/></linearGradient>
<linearGradient id="g50" gradientUnits="userSpaceOnUse" x1="172" x2="384" y1="0" y2="0"><stop offset="0" stop-color="#70d1ce"/><stop offset="0.037" stop-color="#72d2ce"/><stop offset="0.074" stop-color="#74d2cb"/><stop offset="0.111" stop-color="#77d3c7"/><stop offset="0.148" stop-color="#79d4c2"/><stop offset="0.185" stop-color="#7bd4be"/><stop offset="0.222" stop-color="#7dd4b9"/><stop offset="0.259" stop-color="#7ed4b2"/><stop offset="0.296" stop-color="#7fd4aa"/><stop offset="0.333" stop-color="#80d3a0"/><stop offset="0.37" stop-color="#80d396"/><stop offset="0.407" stop-color="#80d28a"/><stop offset="0.444" stop-color="#82d17c"/><stop offset="0.481" stop-color="#85d16e"/><stop offset="0.519" stop-color="#89d15d"/><stop offset="0.556" stop-color="#8dd14b"/><stop offset="0.593" stop-color="#96d23c"/><stop offset="0.63" stop-color="#a6d736"/><stop offset="0.667" stop-color="#b9dd34"/><stop offset="0.704" stop-color="#cae333"/><stop offset="0.741" stop-color="#dbe834"/><stop offset="0.778" stop-color="#e9eb33"/><stop offset="0.815" stop-color="#f1eb33"/><stop offset="0.852" stop-color="#f6e82f"/><stop offset="0.889" stop-color="#f9e12a"/><stop offset="0.926" stop-color="#f8d428"/><stop offset="0.963" stop-color="#f8c324"/><stop offset="1" stop-color="#f6b420"/></linearGradient>
<linearGradient id="g51" gradientUnits="userSpaceOnUse" x1="172" x2="387" y1="0" y2="0"><stop offset="0" stop-color="#70d1d0"/><stop offset="0.037" stop-color="#72d2d1"/><stop offset="0.074" stop-color="#74d3cd"/><stop offset="0.111" stop-color="#76d3c8"/><stop offset="0.148" stop-color="#78d4c3"/><stop offset="0.185" stop-color="#7bd4bf"/><stop offset="0.222" stop-color="#7dd4ba"/><stop offset="0.259" stop-color="#7ed4b3"/><stop offset="0.296" stop-color="#7fd4ab"/><stop offset="0.333" stop-color="#81d4a1"/><stop offset="0.37" stop-color="#80d396"/><stop offset="0.407" stop-color="#80d28a"/><stop offset="0.444" stop-color="#82d17c"/><stop offset="0.481" stop-color="#87d26d"/><stop offset="0.519" stop-color="#8bd25b"/><stop offset="0.556" stop-color="#8fd249"/><stop offset="0.593" stop-color="#9ad43b"/><stop offset="0.63" stop-color="#adda37"/><stop offset="0.667" stop-color="#c1e036"/><stop offset="0.704" stop-color="#d2e637"/><stop offset="0.741" stop-color="#e3eb36"/><stop offset="0.778" stop-color="#efec36"/><stop offset="0.815" stop-color="#f5ea34"/><stop offset="0.852" stop-color="#f8e52e"/><stop offset="0.889" stop-color="#f9db2a"/><stop offset="0.926" stop-color="#f8cb28"/><stop offset="0.963" stop-color="#f7bb24"/><stop offset="1" stop-color="#f6ab1f"/></linearGradient>
<linearGradient id="g52" gradientUnits="userSpaceOnUse" x1="173" x2="390" y1="0" y2="0"><stop offset="0" stop-color="#70d1d3"/><stop offset="0.036" stop-color="#71d2d3"/><stop offset="0.071" stop-color="#74d3ce"/><stop offset="0.107" stop-color="#76d3ca"/><stop offset="0.143" stop-color="#78d4c4"/><stop offset="0.179" stop-color="#7bd4c0"/><stop offset="0.214" stop-color="#7cd5bc"/><stop offset="0.25" stop-color="#7ed5b6"/><stop offset="0.286" stop-color="#7fd4ae"/><stop offset="0.321" stop-color="#81d4a4"/><stop offset="0.357" stop-color="#80d399"/><stop offset="0.393" stop-color="#80d28e"/><stop offset="0.429" stop-color="#82d180"/><stop offset="0.464" stop-color="#86d272"/><stop offset="0.5" stop-color="#8bd262"/><stop offset="0.536" stop-color="#8fd24f"/><stop offset="0.571" stop-color="#96d33f"/><stop offset="0.607" stop-color="#a8d83b"/><stop offset="0.643" stop-color="#bedf39"/><stop offset="0.679" stop-color="#cfe53a"/><stop offset="0.714" stop-color="#e0eb3a"/><stop offset="0.75" stop-color="#efed39"/><stop offset="0.786" stop-color="#f4eb39"/><stop offset="0.821" stop-color="#f8e734"/><stop offset="0.857" stop-color="#fae02c"/><stop offset="0.893" stop-color="#f9d22b"/><stop offset="0.929" stop-color="#f8c127"/><stop offset="0.964" stop-color="#f6b222"/><stop offset="1" stop-color="#f5a51f"/></linearGradient>
<linearGradient id="g53" gradientUnits="userSpaceOnUse" x1="173" x2="393" y1="0" y2="0"><stop offset="0" stop-color="#6fd1d4"/><stop offset="0.036" stop-color="#71d2d4"/><stop offset="0.071" stop-color="#74d3d0"/><stop offset="0.107" stop-color="#76d4cb"/><stop offset="0.143" stop-color="#78d4c5"/><stop offset="0.179" stop-color="#7bd5c2"/><stop offset="0.214" stop-color="#7dd5bd"/><stop offset="0.25" stop-color="#7ed5b7"/><stop offset="0.286" stop-color="#7fd4ae"/><stop offset="0.321" stop-color="#81d4a4"/><stop offset="0.357" stop-color="#80d39a"/><stop offset="0.393" stop-color="#80d28e"/><stop offset="0.429" stop-color="#82d280"/><stop offset="0.464" stop-color="#87d271"/><stop offset="0.5" stop-color="#8cd360"/><stop offset="0.536" stop-color="#91d34e"/><stop offset="0.571" stop-color="#9ad43f"/><stop offset="0.607" stop-color="#b0db3e"/><stop offset="0.643" stop-color="#c7e23d"/><stop offset="0.679" stop-color="#d7e83e"/><stop offset="0.714" stop-color="#e7ed3e"/><stop offset="0.75" stop-color="#f3ed3d"/><stop offset="0.786" stop-color="#f7e93b"/><stop offset="0.821" stop-color="#f9e334"/><stop offset="0.857" stop-color="#fad92d"/><stop offset="0.893" stop-color="#f9c92c"/><stop offset="0.929" stop-color="#f7b827"/><stop offset="0.964" stop-color="#f5a921"/><stop offset="1" stop-color="#f59f1e"/></linearGradient>
<linearGradient id="g54" gradientUnits="userSpaceOnUse" x1="173" x2="395" y1="0" y2="0"><stop offset="0" stop-color="#6fd2d5"/><stop offset="0.036" stop-color="#71d2d5"/><stop offset="0.071" stop-color="#74d3d1"/><stop offset="0.107" stop-color="#76d4cd"/><stop offset="0.143" stop-color="#78d4c7"/><stop offset="0.179" stop-color="#7bd5c4"/><stop offset="0.214" stop-color="#7dd5bf"/><stop offset="0.25" stop-color="#7ed5b8"/><stop offset="0.286" stop-color="#7fd5b0"/><stop offset="0.321" stop-color="#80d4a6"/><stop offset="0.357" stop-color="#7fd39b"/><stop offset="0.393" stop-color="#7fd28f"/><stop offset="0.429" stop-color="#82d280"/><stop offset="0.464" stop-color="#88d371"/><stop offset="0.5" stop-color="#8dd35f"/><stop offset="0.536" stop-color="#93d34e"/><stop offset="0.571" stop-color="#a0d643"/><stop offset="0.607" stop-color="#b6dd42"/><stop offset="0.643" stop-color="#cce441"/><stop offset="0.679" stop-color="#ddea42"/><stop offset="0.714" stop-color="#edee41"/><stop offset="0.75" stop-color="#f6ec41"/><stop offset="0.786" stop-color="#f8e73e"/><stop offset="0.821" stop-color="#fadf36"/><stop offset="0.857" stop-color="#fad230"/><stop offset="0.893" stop-color="#f9c12d"/><stop offset="0.929" stop-color="#f7b227"/><stop offset="0.964" stop-color="#f5a421"/><stop offset="1" stop-color="#f59a1f"/></linearGradient>
<linearGradient id="g55" gradientUnits="userSpaceOnUse" x1="174" x2="398" y1="0" y2="0"><stop offset="0" stop-color="#6fd2d5"/><stop offset="0.036" stop-color="#71d2d5"/><stop offset="0.071" stop-color="#74d3d2"/><stop offset="0.107" stop-color="#76d4ce"/><stop offset="0.143" stop-color="#79d4c9"/><stop offset="0.179" stop-color="#7bd5c5"/><stop offset="0.214" stop-color="#7dd5c0"/><stop offset="0.25" stop-color="#7ed5b9"/><stop offset="0.286" stop-color="#7fd5b0"/><stop offset="0.321" stop-color="#7fd4a6"/><stop offset="0.357" stop-color="#7ed29b"/><stop offset="0.393" stop-color="#7fd28e"/><stop offset="0.429" stop-color="#83d27e"/><stop offset="0.464" stop-color="#89d36f"/><stop offset="0.5" stop-color="#8fd35d"/><stop offset="0.536" stop-color="#97d54e"/><stop offset="0.571" stop-color="#a7d946"/><stop offset="0.607" stop-color="#bee146"/><stop offset="0.643" stop-color="#d3e747"/><stop offset="0.679" stop-color="#e4ec46"/><stop offset="0.714" stop-color="#f2ee46"/><stop offset="0.75" stop-color="#f8ea45"/><stop offset="0.786" stop-color="#fae241"/><stop offset="0.821" stop-color="#fad838"/><stop offset="0.857" stop-color="#fac933"/><stop offset="0.893" stop-color="#f8b82d"/><stop offset="0.929" stop-color="#f6a927"/><stop offset="0.964" stop-color="#f59e21"/><stop offset="1" stop-color="#f4941e"/></linearGradient>
<linearGradient id="g56" gradientUnits="userSpaceOnUse" x1="174" x2="401" y1="0" y2="0"><stop offset="0" stop-color="#6fd2d5"/><stop offset="0.034" stop-color="#71d2d5"/><stop offset="0.069" stop-color="#74d3d3"/><stop offset="0.103" stop-color="#76d4d0"/><stop offset="0.138" stop-color="#78d4cc"/><stop offset="0.172" stop-color="#7bd5c8"/><stop offset="0.207" stop-color="#7dd5c3"/><stop offset="0.241" stop-color="#7ed5bc"/><stop offset="0.276" stop-color="#7fd5b4"/><stop offset="0.31" stop-color="#7fd4ab"/><stop offset="0.345" stop-color="#7ed3a1"/><stop offset="0.379" stop-color="#7ed294"/><stop offset="0.414" stop-color="#81d184"/><stop offset="0.448" stop-color="#86d275"/><stop offset="0.483" stop-color="#8dd365"/><stop offset="0.517" stop-color="#95d556"/><stop offset="0.552" stop-color="#a3d84c"/><stop offset="0.586" stop-color="#b8df4b"/><stop offset="0.621" stop-color="#cee64c"/><stop offset="0.655" stop-color="#dfec4c"/><stop offset="0.69" stop-color="#eeee4b"/><stop offset="0.724" stop-color="#f7eb4a"/><stop offset="0.759" stop-color="#fae449"/><stop offset="0.793" stop-color="#fbdb42"/><stop offset="0.828" stop-color="#facd3a"/><stop offset="0.862" stop-color="#f9bc34"/><stop offset="0.897" stop-color="#f7ad2d"/><stop offset="0.931" stop-color="#f6a125"/><stop offset="0.966" stop-color="#f59721"/><stop offset="1" stop-color="#f48d1e"/></linearGradient>
<linearGradient id="g57" gradientUnits="userSpaceOnUse" x1="174" x2="404" y1="0" y2="0"><stop offset="0" stop-color="#6fd2d5"/><stop offset="0.034" stop-color="#71d3d5"/><stop offset="0.069" stop-color="#73d3d4"/><stop offset="0.103" stop-color="#76d4d3"/><stop offset="0.138" stop-color="#79d5cf"/><stop offset="0.172" stop-color="#7bd5ca"/><stop offset="0.207" stop-color="#7dd5c5"/><stop offset="0.241" stop-color="#7ed5be"/><stop offset="0.276" stop-color="#7ed5b6"/><stop offset="0.31" stop-color="#7ed4ad"/><stop offset="0.345" stop-color="#7dd3a2"/><stop offset="0.379" stop-color="#7dd194"/><stop offset="0.414" stop-color="#81d184"/><stop offset="0.448" stop-color="#87d274"/><stop offset="0.483" stop-color="#8fd464"/><stop offset="0.517" stop-color="#99d657"/><stop offset="0.552" stop-color="#a9db51"/><stop offset="0.586" stop-color="#bfe251"/><stop offset="0.621" stop-color="#d5e951"/><stop offset="0.655" stop-color="#e6ee51"/><stop offset="0.69" stop-color="#f2ee50"/><stop offset="0.724" stop-color="#f9e84f"/><stop offset="0.759" stop-color="#fbdf4d"/><stop offset="0.793" stop-color="#fbd346"/><stop offset="0.828" stop-color="#fac33d"/><stop offset="0.862" stop-color="#f8b235"/><stop offset="0.897" stop-color="#f7a42c"/><stop offset="0.931" stop-color="#f59a25"/><stop offset="0.966" stop-color="#f49021"/><stop offset="1" stop-color="#f3861e"/></linearGradient>
<linearGradient id="g58" gradientUnits="userSpaceOnUse" x1="175" x2="407" y1="0" y2="0"><stop offset="0" stop-color="#6fd2d5"/><stop offset="0.034" stop-color="#71d3d5"/><stop offset="0.069" stop-color="#74d4d6"/><stop offset="0.103" stop-color="#77d4d4"/><stop offset="0.138" stop-color="#79d5d1"/><stop offset="0.172" stop-color="#7bd5cc"/><stop offset="0.207" stop-color="#7dd5c6"/><stop offset="0.241" stop-color="#7ed5bf"/><stop offset="0.276" stop-color="#7ed5b7"/><stop offset="0.31" stop-color="#7dd4ae"/><stop offset="0.345" stop-color="#7cd2a3"/><stop offset="0.379" stop-color="#7dd194"/><stop offset="0.414" stop-color="#81d182"/><stop offset="0.448" stop-color="#88d272"/><stop offset="0.483" stop-color="#92d564"/><stop offset="0.517" stop-color="#9ed859"/><stop offset="0.552" stop-color="#b1de56"/><stop offset="0.586" stop-color="#c8e657"/><stop offset="0.621" stop-color="#dcec58"/><stop offset="0.655" stop-color="#ecef56"/><stop offset="0.69" stop-color="#f6ec55"/><stop offset="0.724" stop-color="#fae455"/><stop offset="0.759" stop-color="#fbd951"/><stop offset="0.793" stop-color="#fbca49"/><stop offset="0.828" stop-color="#f9b83e"/><stop offset="0.862" stop-color="#f8a835"/><stop offset="0.897" stop-color="#f69c2b"/><stop offset="0.931" stop-color="#f59424"/><stop offset="0.966" stop-color="#f48821"/><stop offset="1" stop-color="#f37f1e"/></linearGradient>
<linearGradient id="g59" gradientUnits="userSpaceOnUse" x1="175" x2="410" y1="0" y2="0"><stop offset="0" stop-color="#6fd2d4"/><stop offset="0.033" stop-color="#71d3d6"/><stop offset="0.067" stop-color="#74d4d7"/><stop offset="0.1" stop-color="#77d4d7"/><stop offset="0.133" stop-color="#79d5d4"/><stop offset="0.167" stop-color="#7bd5cf"/><stop offset="0.2" stop-color="#7dd6c9"/><stop offset="0.233" stop-color="#7ed5c2"/><stop offset="0.267" stop-color="#7ed5bb"/><stop offset="0.3" stop-color="#7dd4b3"/><stop offset="0.333" stop-color="#7bd2a9"/><stop offset="0.367" stop-color="#7cd19b"/><stop offset="0.4" stop-color="#7fd189"/><stop offset="0.433" stop-color="#86d278"/><stop offset="0.467" stop-color="#90d56b"/><stop offset="0.5" stop-color="#9bd860"/><stop offset="0.533" stop-color="#acdd5c"/><stop offset="0.567" stop-color="#c2e55d"/><stop offset="0.6" stop-color="#d7eb5f"/><stop offset="0.633" stop-color="#e8ef5d"/><stop offset="0.667" stop-color="#f4ee5a"/><stop offset="0.7" stop-color="#f9e65a"/><stop offset="0.733" stop-color="#fbdb5a"/><stop offset="0.767" stop-color="#fbcd54"/><stop offset="0.8" stop-color="#fabc49"/><stop offset="0.833" stop-color="#f8ab3d"/><stop offset="0.867" stop-color="#f79d33"/><stop offset="0.9" stop-color="#f5942a"/><stop offset="0.933" stop-color="#f48b24"/><stop offset="0.967" stop-color="#f37f21"/><stop offset="1" stop-color="#f2781e"/></linearGradient>
<linearGradient id="g60" gradientUnits="userSpaceOnUse" x1="175" x2="412" y1="0" y2="0"><stop offset="0" stop-color="#6fd2d4"/><stop offset="0.033" stop-color="#71d3d6"/><stop offset="0.067" stop-color="#74d4d8"/><stop offset="0.1" stop-color="#77d5d9"/><stop offset="0.133" stop-color="#79d5d6"/><stop offset="0.167" stop-color="#7bd5d1"/><stop offset="0.2" stop-color="#7dd6cb"/><stop offset="0.233" stop-color="#7ed6c4"/><stop offset="0.267" stop-color="#7ed5bd"/><stop offset="0.3" stop-color="#7cd4b6"/><stop offset="0.333" stop-color="#7ad2ac"/><stop offset="0.367" stop-color="#7bd19d"/><stop offset="0.4" stop-color="#7ed089"/><stop offset="0.433" stop-color="#86d279"/><stop offset="0.467" stop-color="#92d66d"/><stop offset="0.5" stop-color="#9fd964"/><stop offset="0.533" stop-color="#b1df61"/><stop offset="0.567" stop-color="#c8e765"/><stop offset="0.6" stop-color="#dded66"/><stop offset="0.633" stop-color="#ecf063"/><stop offset="0.667" stop-color="#f6ec60"/><stop offset="0.7" stop-color="#fae260"/><stop offset="0.733" stop-color="#fbd560"/><stop offset="0.767" stop-color="#fbc659"/><stop offset="0.8" stop-color="#f9b24b"/><stop offset="0.833" stop-color="#f8a13e"/><stop offset="0.867" stop-color="#f69533"/><stop offset="0.9" stop-color="#f58d2a"/><stop offset="0.933" stop-color="#f48225"/><stop offset="0.967" stop-color="#f37922"/><stop offset="1" stop-color="#f2731f"/></linearGradient>
<linearGradient id="g61" gradientUnits="userSpaceOnUse" x1="176" x2="415" y1="0" y2="0"><stop offset="0" stop-color="#6fd2d4"/><stop offset="0.033" stop-color="#71d3d6"/><stop offset="0.067" stop-color="#74d4da"/><stop offset="0.1" stop-color="#77d5dc"/><stop offset="0.133" stop-color="#7ad5d8"/><stop offset="0.167" stop-color="#7cd6d2"/><stop offset="0.2" stop-color="#7dd6cc"/><stop offset="0.233" stop-color="#7ed6c5"/><stop offset="0.267" stop-color="#7dd5bf"/><stop offset="0.3" stop-color="#7bd4b8"/><stop offset="0.333" stop-color="#7ad2ad"/><stop offset="0.367" stop-color="#7bd19c"/><stop offset="0.4" stop-color="#7fd087"/><stop offset="0.433" stop-color="#89d379"/><stop offset="0.467" stop-color="#96d76f"/><stop offset="0.5" stop-color="#a4db68"/><stop offset="0.533" stop-color="#b9e269"/><stop offset="0.567" stop-color="#d1eb6e"/><stop offset="0.6" stop-color="#e4f06d"/><stop offset="0.633" stop-color="#f2f068"/><stop offset="0.667" stop-color="#f9e965"/><stop offset="0.7" stop-color="#fbdb67"/><stop offset="0.733" stop-color="#fbcd66"/><stop offset="0.767" stop-color="#faba5a"/><stop offset="0.8" stop-color="#f9a64a"/><stop offset="0.833" stop-color="#f7963d"/><stop offset="0.867" stop-color="#f68c32"/><stop offset="0.9" stop-color="#f4832a"/><stop offset="0.933" stop-color="#f37926"/><stop offset="0.967" stop-color="#f27122"/><stop offset="1" stop-color="#f16c1f"/></linearGradient>
<linearGradient id="g62" gradientUnits="userSpaceOnUse" x1="176" x2="418" y1="0" y2="0"><stop offset="0" stop-color="#6fd2d4"/><stop offset="0.032" stop-color="#71d3d7"/><stop offset="0.065" stop-color="#74d4dc"/><stop offset="0.097" stop-color="#78d5df"/><stop offset="0.129" stop-color="#7ad5db"/><stop offset="0.161" stop-color="#7cd6d5"/><stop offset="0.194" stop-color="#7dd6cf"/><stop offset="0.226" stop-color="#7ed6c9"/><stop offset="0.258" stop-color="#7dd5c2"/><stop offset="0.29" stop-color="#7bd4bc"/><stop offset="0.323" stop-color="#79d3b3"/><stop offset="0.355" stop-color="#79d1a5"/><stop offset="0.387" stop-color="#7dd090"/><stop offset="0.419" stop-color="#86d27e"/><stop offset="0.452" stop-color="#94d776"/><stop offset="0.484" stop-color="#a2db6f"/><stop offset="0.516" stop-color="#b4e16e"/><stop offset="0.548" stop-color="#cdea76"/><stop offset="0.581" stop-color="#e1f077"/><stop offset="0.613" stop-color="#eff172"/><stop offset="0.645" stop-color="#f8ec6b"/><stop offset="0.677" stop-color="#fbde6d"/><stop offset="0.71" stop-color="#fbd06e"/><stop offset="0.742" stop-color="#fabf68"/><stop offset="0.774" stop-color="#f9a957"/><stop offset="0.806" stop-color="#f89747"/><stop offset="0.839" stop-color="#f68a3a"/><stop offset="0.871" stop-color="#f58231"/><stop offset="0.903" stop-color="#f4792a"/><stop offset="0.935" stop-color="#f37026"/><stop offset="0.968" stop-color="#f26a23"/><stop offset="1" stop-color="#f16621"/></linearGradient>
<linearGradient id="g63" gradientUnits="userSpaceOnUse" x1="177" x2="421" y1="0" y2="0"><stop offset="0" stop-color="#6fd2d5"/><stop offset="0.032" stop-color="#71d3d8"/><stop offset="0.065" stop-color="#75d4de"/><stop offset="0.097" stop-color="#78d5e1"/><stop offset="0.129" stop-color="#7ad5dc"/><stop offset="0.161" stop-color="#7cd6d6"/><stop offset="0.194" stop-color="#7dd6d0"/><stop offset="0.226" stop-color="#7ed6ca"/><stop offset="0.258" stop-color="#7dd5c4"/><stop offset="0.29" stop-color="#7ad4be"/><stop offset="0.323" stop-color="#79d2b5"/><stop offset="0.355" stop-color="#79d1a6"/><stop offset="0.387" stop-color="#7ed08e"/><stop offset="0.419" stop-color="#8ad480"/><stop offset="0.452" stop-color="#9ada7a"/><stop offset="0.484" stop-color="#a8dd74"/><stop offset="0.516" stop-color="#bee579"/><stop offset="0.548" stop-color="#d6ee80"/><stop offset="0.581" stop-color="#e9f280"/><stop offset="0.613" stop-color="#f4f178"/><stop offset="0.645" stop-color="#fae772"/><stop offset="0.677" stop-color="#fbd673"/><stop offset="0.71" stop-color="#fbc674"/><stop offset="0.742" stop-color="#fab269"/><stop offset="0.774" stop-color="#f89c55"/><stop offset="0.806" stop-color="#f78b45"/><stop offset="0.839" stop-color="#f58139"/><stop offset="0.871" stop-color="#f47830"/><stop offset="0.903" stop-color="#f3702a"/><stop offset="0.935" stop-color="#f26827"/><stop offset="0.968" stop-color="#f26324"/><stop offset="1" stop-color="#f16022"/></linearGradient>
<linearGradient id="g64" gradientUnits="userSpaceOnUse" x1="177" x2="424" y1="0" y2="0"><stop offset="0" stop-color="#6fd3d6"/><stop offset="0.032" stop-color="#72d3da"/><stop offset="0.065" stop-color="#76d4df"/><stop offset="0.097" stop-color="#78d5e2"/><stop offset="0.129" stop-color="#7ad6de"/><stop offset="0.161" stop-color="#7cd6d8"/><stop offset="0.194" stop-color="#7ed6d2"/><stop offset="0.226" stop-color="#7ed6cc"/><stop offset="0.258" stop-color="#7dd5c6"/><stop offset="0.29" stop-color="#7ad4c1"/><stop offset="0.323" stop-color="#78d3b8"/><stop offset="0.355" stop-color="#79d1a8"/><stop offset="0.387" stop-color="#7fd08f"/><stop offset="0.419" stop-color="#8ed684"/><stop offset="0.452" stop-color="#9fdc80"/><stop offset="0.484" stop-color="#aee07c"/><stop offset="0.516" stop-color="#c7e986"/><stop offset="0.548" stop-color="#dff18c"/><stop offset="0.581" stop-color="#eff38a"/><stop offset="0.613" stop-color="#f8ef7e"/><stop offset="0.645" stop-color="#fbe07a"/><stop offset="0.677" stop-color="#fbcd79"/><stop offset="0.71" stop-color="#fabd7a"/><stop offset="0.742" stop-color="#f9a467"/><stop offset="0.774" stop-color="#f78e52"/><stop offset="0.806" stop-color="#f68144"/><stop offset="0.839" stop-color="#f57739"/><stop offset="0.871" stop-color="#f46f30"/><stop offset="0.903" stop-color="#f3672b"/><stop offset="0.935" stop-color="#f26128"/><stop offset="0.968" stop-color="#f15d25"/><stop offset="1" stop-color="#f15b23"/></linearGradient>
<linearGradient id="g65" gradientUnits="userSpaceOnUse" x1="177" x2="426" y1="0" y2="0"><stop offset="0" stop-color="#6fd3d7"/><stop offset="0.031" stop-color="#72d4db"/><stop offset="0.062" stop-color="#76d5e0"/><stop offset="0.094" stop-color="#79d5e3"/><stop offset="0.125" stop-color="#7ad6e0"/><stop offset="0.156" stop-color="#7cd6db"/><stop offset="0.188" stop-color="#7dd6d5"/><stop offset="0.219" stop-color="#7fd6cf"/><stop offset="0.25" stop-color="#7ed6ca"/><stop offset="0.281" stop-color="#7ad5c5"/><stop offset="0.312" stop-color="#78d3bf"/><stop offset="0.344" stop-color="#78d2b4"/><stop offset="0.375" stop-color="#7ed29c"/><stop offset="0.406" stop-color="#8bd58c"/><stop offset="0.438" stop-color="#9ddc88"/><stop offset="0.469" stop-color="#aee187"/><stop offset="0.5" stop-color="#c2e88d"/><stop offset="0.531" stop-color="#dbf198"/><stop offset="0.562" stop-color="#edf498"/><stop offset="0.594" stop-color="#f7f18f"/><stop offset="0.625" stop-color="#fbe583"/><stop offset="0.656" stop-color="#fbd280"/><stop offset="0.688" stop-color="#fabf7e"/><stop offset="0.719" stop-color="#f9ab76"/><stop offset="0.75" stop-color="#f89260"/><stop offset="0.781" stop-color="#f6804e"/><stop offset="0.812" stop-color="#f57642"/><stop offset="0.844" stop-color="#f46e38"/><stop offset="0.875" stop-color="#f36631"/><stop offset="0.906" stop-color="#f2602c"/><stop offset="0.938" stop-color="#f25a29"/><stop offset="0.969" stop-color="#f15826"/><stop offset="1" stop-color="#f15624"/></linearGradient>
<linearGradient id="g66" gradientUnits="userSpaceOnUse" x1="178" x2="429" y1="0" y2="0"><stop offset="0" stop-color="#70d3d9"/><stop offset="0.031" stop-color="#73d4dd"/><stop offset="0.062" stop-color="#77d5e2"/><stop offset="0.094" stop-color="#79d5e4"/><stop offset="0.125" stop-color="#7bd6e1"/><stop offset="0.156" stop-color="#7cd6dc"/><stop offset="0.188" stop-color="#7ed6d6"/><stop offset="0.219" stop-color="#7fd6d0"/><stop offset="0.25" stop-color="#7dd6cc"/><stop offset="0.281" stop-color="#7ad5c8"/><stop offset="0.312" stop-color="#78d3c2"/><stop offset="0.344" stop-color="#79d3b5"/><stop offset="0.375" stop-color="#82d49e"/><stop offset="0.406" stop-color="#91d990"/><stop offset="0.438" stop-color="#a5e08f"/><stop offset="0.469" stop-color="#b8e693"/><stop offset="0.5" stop-color="#cfed9d"/><stop offset="0.531" stop-color="#e6f5a6"/><stop offset="0.562" stop-color="#f4f5a3"/><stop offset="0.594" stop-color="#faed95"/><stop offset="0.625" stop-color="#fcdc8b"/><stop offset="0.656" stop-color="#fbc685"/><stop offset="0.688" stop-color="#f9b17f"/><stop offset="0.719" stop-color="#f89a71"/><stop offset="0.75" stop-color="#f7835c"/><stop offset="0.781" stop-color="#f6754c"/><stop offset="0.812" stop-color="#f46c41"/><stop offset="0.844" stop-color="#f36538"/><stop offset="0.875" stop-color="#f25e31"/><stop offset="0.906" stop-color="#f2582d"/><stop offset="0.938" stop-color="#f1552a"/><stop offset="0.969" stop-color="#f15327"/><stop offset="1" stop-color="#f05125"/></linearGradient>
<linearGradient id="g67" gradientUnits="userSpaceOnUse" x1="178" x2="432" y1="0" y2="0"><stop offset="0" stop-color="#71d4db"/><stop offset="0.031" stop-color="#74d4df"/><stop offset="0.062" stop-color="#77d5e4"/><stop offset="0.094" stop-color="#7ad5e5"/><stop offset="0.125" stop-color="#7bd6e2"/><stop offset="0.156" stop-color="#7cd6dd"/><stop offset="0.188" stop-color="#7dd6d8"/><stop offset="0.219" stop-color="#7fd6d2"/><stop offset="0.25" stop-color="#7dd6cf"/><stop offset="0.281" stop-color="#79d5cb"/><stop offset="0.312" stop-color="#78d4c5"/><stop offset="0.344" stop-color="#7bd4b8"/><stop offset="0.375" stop-color="#86d6a2"/><stop offset="0.406" stop-color="#97dc96"/><stop offset="0.438" stop-color="#ade399"/><stop offset="0.469" stop-color="#c2eaa0"/><stop offset="0.5" stop-color="#d9f2ac"/><stop offset="0.531" stop-color="#eff7b5"/><stop offset="0.562" stop-color="#f9f4ad"/><stop offset="0.594" stop-color="#fce79d"/><stop offset="0.625" stop-color="#fcd392"/><stop offset="0.656" stop-color="#faba88"/><stop offset="0.688" stop-color="#f8a37e"/><stop offset="0.719" stop-color="#f78b6c"/><stop offset="0.75" stop-color="#f67559"/><stop offset="0.781" stop-color="#f56b4b"/><stop offset="0.812" stop-color="#f46340"/><stop offset="0.844" stop-color="#f35c37"/><stop offset="0.875" stop-color="#f25631"/><stop offset="0.906" stop-color="#f1522e"/><stop offset="0.938" stop-color="#f1502b"/><stop offset="0.969" stop-color="#f04f28"/><stop offset="1" stop-color="#f04c25"/></linearGradient>
<linearGradient id="g68" gradientUnits="userSpaceOnUse" x1="179" x2="435" y1="0" y2="0"><stop offset="0" stop-color="#71d4dd"/><stop offset="0.031" stop-color="#75d5e1"/><stop offset="0.062" stop-color="#78d5e5"/><stop offset="0.094" stop-color="#7ad6e6"/><stop offset="0.125" stop-color="#7bd6e3"/><stop offset="0.156" stop-color="#7cd6de"/><stop offset="0.188" stop-color="#7dd6d9"/><stop offset="0.219" stop-color="#80d7d3"/><stop offset="0.25" stop-color="#7cd6d1"/><stop offset="0.281" stop-color="#79d5ce"/><stop offset="0.312" stop-color="#78d4c8"/><stop offset="0.344" stop-color="#7fd5b9"/><stop offset="0.375" stop-color="#8cd9a5"/><stop offset="0.406" stop-color="#9fdf9c"/><stop offset="0.438" stop-color="#b7e7a4"/><stop offset="0.469" stop-color="#ceefb0"/><stop offset="0.5" stop-color="#e4f6bc"/><stop offset="0.531" stop-color="#f8f9c4"/><stop offset="0.562" stop-color="#fcf1b3"/><stop offset="0.594" stop-color="#fcdfa3"/><stop offset="0.625" stop-color="#fbc796"/><stop offset="0.656" stop-color="#f9ac88"/><stop offset="0.688" stop-color="#f7937a"/><stop offset="0.719" stop-color="#f67b67"/><stop offset="0.75" stop-color="#f56956"/><stop offset="0.781" stop-color="#f4624a"/><stop offset="0.812" stop-color="#f35b40"/><stop offset="0.844" stop-color="#f25437"/><stop offset="0.875" stop-color="#f14f32"/><stop offset="0.906" stop-color="#f14d2f"/><stop offset="0.938" stop-color="#f04c2c"/><stop offset="0.969" stop-color="#f04a28"/><stop offset="1" stop-color="#f04826"/></linearGradient>
<linearGradient id="g69" gradientUnits="userSpaceOnUse" x1="179" x2="438" y1="0" y2="0"><stop offset="0" stop-color="#72d4de"/><stop offset="0.03" stop-color="#75d5e2"/><stop offset="0.061" stop-color="#78d5e6"/><stop offset="0.091" stop-color="#7ad6e7"/><stop offset="0.121" stop-color="#7bd5e5"/><stop offset="0.152" stop-color="#7bd5e1"/><stop offset="0.182" stop-color="#7dd6dc"/><stop offset="0.212" stop-color="#7fd6d7"/><stop offset="0.242" stop-color="#7cd6d4"/><stop offset="0.273" stop-color="#79d5d2"/><stop offset="0.303" stop-color="#79d5cd"/><stop offset="0.333" stop-color="#7ed6c2"/><stop offset="0.364" stop-color="#8bdab0"/><stop offset="0.394" stop-color="#9ddfa2"/><stop offset="0.424" stop-color="#b7e8ab"/><stop offset="0.455" stop-color="#cef0b8"/><stop offset="0.485" stop-color="#e3f6c6"/><stop offset="0.515" stop-color="#f6fbce"/><stop offset="0.545" stop-color="#fdf4c4"/><stop offset="0.576" stop-color="#fde3b2"/><stop offset="0.606" stop-color="#fccca3"/><stop offset="0.636" stop-color="#f9af92"/><stop offset="0.667" stop-color="#f79482"/><stop offset="0.697" stop-color="#f67e71"/><stop offset="0.727" stop-color="#f5675f"/><stop offset="0.758" stop-color="#f45f52"/><stop offset="0.788" stop-color="#f35847"/><stop offset="0.818" stop-color="#f2513e"/><stop offset="0.848" stop-color="#f14c37"/><stop offset="0.879" stop-color="#f14a33"/><stop offset="0.909" stop-color="#f04830"/><stop offset="0.939" stop-color="#f0472c"/><stop offset="0.97" stop-color="#f04629"/><stop offset="1" stop-color="#f04427"/></linearGradient>
<linearGradient id="g70" gradientUnits="userSpaceOnUse" x1="180" x2="440" y1="0" y2="0"><stop offset="0" stop-color="#72d4e0"/><stop offset="0.03" stop-color="#76d5e4"/><stop offset="0.061" stop-color="#79d6e8"/><stop offset="0.091" stop-color="#7bd6e8"/><stop offset="0.121" stop-color="#7bd5e6"/><stop offset="0.152" stop-color="#7bd5e2"/><stop offset="0.182" stop-color="#7cd5de"/><stop offset="0.212" stop-color="#7dd6d9"/><stop offset="0.242" stop-color="#7bd6d7"/><stop offset="0.273" stop-color="#79d6d5"/><stop offset="0.303" stop-color="#7ad6d0"/><stop offset="0.333" stop-color="#81d8c4"/><stop offset="0.364" stop-color="#91ddb5"/><stop offset="0.394" stop-color="#a5e3a8"/><stop offset="0.424" stop-color="#c1ecb8"/><stop offset="0.455" stop-color="#d8f4c6"/><stop offset="0.485" stop-color="#ecfad4"/><stop offset="0.515" stop-color="#fbfcd9"/><stop offset="0.545" stop-color="#fff0c9"/><stop offset="0.576" stop-color="#fddbb7"/><stop offset="0.606" stop-color="#fbc1a6"/><stop offset="0.636" stop-color="#f8a191"/><stop offset="0.667" stop-color="#f6867f"/><stop offset="0.697" stop-color="#f5716f"/><stop offset="0.727" stop-color="#f45f5e"/><stop offset="0.758" stop-color="#f35752"/><stop offset="0.788" stop-color="#f25148"/><stop offset="0.818" stop-color="#f14a3e"/><stop offset="0.848" stop-color="#f14638"/><stop offset="0.879" stop-color="#f04534"/><stop offset="0.909" stop-color="#f04431"/><stop offset="0.939" stop-color="#f0442e"/><stop offset="0.97" stop-color="#f0422a"/><stop offset="1" stop-color="#f04028"/></linearGradient>
<linearGradient id="g71" gradientUnits="userSpaceOnUse" x1="180" x2="443" y1="0" y2="0"><stop offset="0" stop-color="#73d5e1"/><stop offset="0.03" stop-color="#76d5e5"/><stop offset="0.061" stop-color="#7ad6e9"/><stop offset="0.091" stop-color="#7bd5e9"/><stop offset="0.121" stop-color="#7ad5e7"/><stop offset="0.152" stop-color="#7ad5e4"/><stop offset="0.182" stop-color="#7bd5e0"/><stop offset="0.212" stop-color="#7cd6dc"/><stop offset="0.242" stop-color="#7ad6da"/><stop offset="0.273" stop-color="#79d6d8"/><stop offset="0.303" stop-color="#7bd7d3"/><stop offset="0.333" stop-color="#85dac8"/><stop offset="0.364" stop-color="#97dfbb"/><stop offset="0.394" stop-color="#afe7b6"/><stop offset="0.424" stop-color="#ccf0c5"/><stop offset="0.455" stop-color="#e2f8d4"/><stop offset="0.485" stop-color="#f3fce0"/><stop offset="0.515" stop-color="#fefae1"/><stop offset="0.545" stop-color="#ffe8cc"/><stop offset="0.576" stop-color="#fdd1bb"/><stop offset="0.606" stop-color="#fab3a7"/><stop offset="0.636" stop-color="#f6918d"/><stop offset="0.667" stop-color="#f5797c"/><stop offset="0.697" stop-color="#f4656c"/><stop offset="0.727" stop-color="#f4575e"/><stop offset="0.758" stop-color="#f35052"/><stop offset="0.788" stop-color="#f24a48"/><stop offset="0.818" stop-color="#f1423e"/><stop offset="0.848" stop-color="#f04139"/><stop offset="0.879" stop-color="#f04136"/><stop offset="0.909" stop-color="#f04132"/><stop offset="0.939" stop-color="#ef402f"/><stop offset="0.97" stop-color="#ef3e2b"/><stop offset="1" stop-color="#ef3c2a"/></linearGradient>
<linearGradient id="g72" gradientUnits="userSpaceOnUse" x1="181" x2="446" y1="0" y2="0"><stop offset="0" stop-color="#73d5e3"/><stop offset="0.029" stop-color="#77d5e7"/><stop offset="0.059" stop-color="#7bd6eb"/><stop offset="0.088" stop-color="#7bd5ea"/><stop offset="0.118" stop-color="#7ad5e8"/><stop offset="0.147" stop-color="#7ad5e5"/><stop offset="0.176" stop-color="#7ad5e2"/><stop offset="0.206" stop-color="#7bd5df"/><stop offset="0.235" stop-color="#7ad6dd"/><stop offset="0.265" stop-color="#79d6db"/><stop offset="0.294" stop-color="#7bd7d8"/><stop offset="0.324" stop-color="#84dbd0"/><stop offset="0.353" stop-color="#97e0c5"/><stop offset="0.382" stop-color="#b0e8c0"/><stop offset="0.412" stop-color="#cef1cd"/><stop offset="0.441" stop-color="#e4f9db"/><stop offset="0.471" stop-color="#f4fde8"/><stop offset="0.5" stop-color="#fefbea"/><stop offset="0.529" stop-color="#ffe9d7"/><stop offset="0.559" stop-color="#fdd2c5"/><stop offset="0.588" stop-color="#fab8b5"/><stop offset="0.618" stop-color="#f79598"/><stop offset="0.647" stop-color="#f47782"/><stop offset="0.676" stop-color="#f46674"/><stop offset="0.706" stop-color="#f35666"/><stop offset="0.735" stop-color="#f34d5a"/><stop offset="0.765" stop-color="#f2474f"/><stop offset="0.794" stop-color="#f14145"/><stop offset="0.824" stop-color="#f03c3e"/><stop offset="0.853" stop-color="#f03d3a"/><stop offset="0.882" stop-color="#ef3d37"/><stop offset="0.912" stop-color="#ef3d33"/><stop offset="0.941" stop-color="#ef3c2f"/><stop offset="0.971" stop-color="#ef3a2d"/><stop offset="1" stop-color="#ef392c"/></linearGradient>
<linearGradient id="g73" gradientUnits="userSpaceOnUse" x1="181" x2="449" y1="0" y2="0"><stop offset="0" stop-color="#73d5e4"/><stop offset="0.029" stop-color="#77d6e8"/><stop offset="0.059" stop-color="#7bd6ec"/><stop offset="0.088" stop-color="#7ad5eb"/><stop offset="0.118" stop-color="#79d5e9"/><stop offset="0.147" stop-color="#79d4e7"/><stop offset="0.176" stop-color="#79d4e4"/><stop offset="0.206" stop-color="#7ad5e2"/><stop offset="0.235" stop-color="#79d6e0"/><stop offset="0.265" stop-color="#79d6de"/><stop offset="0.294" stop-color="#7cd8db"/><stop offset="0.324" stop-color="#87dcd5"/><stop offset="0.353" stop-color="#9ee3cc"/><stop offset="0.382" stop-color="#bbeccc"/><stop offset="0.412" stop-color="#d9f5da"/><stop offset="0.441" stop-color="#edfce7"/><stop offset="0.471" stop-color="#fafdf1"/><stop offset="0.5" stop-color="#fff4eb"/><stop offset="0.529" stop-color="#ffdfd6"/><stop offset="0.559" stop-color="#fcc7c6"/><stop offset="0.588" stop-color="#f9aab2"/><stop offset="0.618" stop-color="#f58593"/><stop offset="0.647" stop-color="#f36c7f"/><stop offset="0.676" stop-color="#f35b72"/><stop offset="0.706" stop-color="#f34e65"/><stop offset="0.735" stop-color="#f2475a"/><stop offset="0.765" stop-color="#f1414f"/><stop offset="0.794" stop-color="#f03b46"/><stop offset="0.824" stop-color="#f03940"/><stop offset="0.853" stop-color="#ef3a3c"/><stop offset="0.882" stop-color="#ef3a38"/><stop offset="0.912" stop-color="#ef3a34"/><stop offset="0.941" stop-color="#ef3931"/><stop offset="0.971" stop-color="#ef372e"/><stop offset="1" stop-color="#ef362d"/></linearGradient>
<linearGradient id="g74" gradientUnits="userSpaceOnUse" x1="182" x2="452" y1="0" y2="0"><stop offset="0" stop-color="#73d5e5"/><stop offset="0.029" stop-color="#77d6e9"/><stop offset="0.059" stop-color="#7bd6ed"/><stop offset="0.088" stop-color="#7ad5ec"/><stop offset="0.118" stop-color="#79d4ea"/><stop offset="0.147" stop-color="#78d4e8"/><stop offset="0.176" stop-color="#78d3e6"/><stop offset="0.206" stop-color="#79d4e4"/><stop offset="0.235" stop-color="#79d6e2"/><stop offset="0.265" stop-color="#79d7e1"/><stop offset="0.294" stop-color="#7dd9de"/><stop offset="0.324" stop-color="#8dded9"/><stop offset="0.353" stop-color="#a8e6d3"/><stop offset="0.382" stop-color="#c8f0d9"/><stop offset="0.412" stop-color="#e5f9e7"/><stop offset="0.441" stop-color="#f5fdf1"/><stop offset="0.471" stop-color="#fef9f6"/><stop offset="0.5" stop-color="#ffeae7"/><stop offset="0.529" stop-color="#fed1d3"/><stop offset="0.559" stop-color="#fbb9c5"/><stop offset="0.588" stop-color="#f799ab"/><stop offset="0.618" stop-color="#f4758d"/><stop offset="0.647" stop-color="#f3617d"/><stop offset="0.676" stop-color="#f35270"/><stop offset="0.706" stop-color="#f24764"/><stop offset="0.735" stop-color="#f14059"/><stop offset="0.765" stop-color="#f03b4f"/><stop offset="0.794" stop-color="#f03647"/><stop offset="0.824" stop-color="#ef3642"/><stop offset="0.853" stop-color="#ef373d"/><stop offset="0.882" stop-color="#ef3739"/><stop offset="0.912" stop-color="#ef3636"/><stop offset="0.941" stop-color="#ef3532"/><stop offset="0.971" stop-color="#ee3430"/><stop offset="1" stop-color="#ee322f"/></linearGradient>
<linearGradient id="g75" gradientUnits="userSpaceOnUse" x1="183" x2="455" y1="0" y2="0"><stop offset="0" stop-color="#74d5e6"/><stop offset="0.029" stop-color="#77d6ea"/><stop offset="0.059" stop-color="#7ad5ed"/><stop offset="0.088" stop-color="#79d4ed"/><stop offset="0.118" stop-color="#78d4eb"/><stop offset="0.147" stop-color="#77d3e9"/><stop offset="0.176" stop-color="#76d3e8"/><stop offset="0.206" stop-color="#78d4e6"/><stop offset="0.235" stop-color="#79d6e5"/><stop offset="0.265" stop-color="#79d7e4"/><stop offset="0.294" stop-color="#7fdae2"/><stop offset="0.324" stop-color="#94e1de"/><stop offset="0.353" stop-color="#b3eadb"/><stop offset="0.382" stop-color="#d5f4e5"/><stop offset="0.412" stop-color="#effcf0"/><stop offset="0.441" stop-color="#fcfdf9"/><stop offset="0.471" stop-color="#fff0f3"/><stop offset="0.5" stop-color="#ffdde2"/><stop offset="0.529" stop-color="#fdc2cf"/><stop offset="0.559" stop-color="#f9a9c0"/><stop offset="0.588" stop-color="#f689a4"/><stop offset="0.618" stop-color="#f3698a"/><stop offset="0.647" stop-color="#f2577b"/><stop offset="0.676" stop-color="#f2496f"/><stop offset="0.706" stop-color="#f14063"/><stop offset="0.735" stop-color="#f13a59"/><stop offset="0.765" stop-color="#f03550"/><stop offset="0.794" stop-color="#ef3348"/><stop offset="0.824" stop-color="#ef3343"/><stop offset="0.853" stop-color="#ee343f"/><stop offset="0.882" stop-color="#ee343b"/><stop offset="0.912" stop-color="#ee3337"/><stop offset="0.941" stop-color="#ee3234"/><stop offset="0.971" stop-color="#ee3132"/><stop offset="1" stop-color="#ee3032"/></linearGradient>
<linearGradient id="g76" gradientUnits="userSpaceOnUse" x1="183" x2="457" y1="0" y2="0"><stop offset="0" stop-color="#73d5e7"/><stop offset="0.029" stop-color="#77d6ea"/><stop offset="0.057" stop-color="#79d5ed"/><stop offset="0.086" stop-color="#79d4ee"/><stop offset="0.114" stop-color="#77d3ec"/><stop offset="0.143" stop-color="#75d2eb"/><stop offset="0.171" stop-color="#75d2ea"/><stop offset="0.2" stop-color="#77d3e8"/><stop offset="0.229" stop-color="#78d5e7"/><stop offset="0.257" stop-color="#79d6e7"/><stop offset="0.286" stop-color="#7ed9e6"/><stop offset="0.314" stop-color="#8fdfe4"/><stop offset="0.343" stop-color="#aee8e2"/><stop offset="0.371" stop-color="#d1f3e8"/><stop offset="0.4" stop-color="#eefbf4"/><stop offset="0.429" stop-color="#fcfdfb"/><stop offset="0.457" stop-color="#fff0f7"/><stop offset="0.486" stop-color="#fedce7"/><stop offset="0.514" stop-color="#fdc2d5"/><stop offset="0.543" stop-color="#faabc5"/><stop offset="0.571" stop-color="#f790b1"/><stop offset="0.6" stop-color="#f37196"/><stop offset="0.629" stop-color="#f25a83"/><stop offset="0.657" stop-color="#f24a77"/><stop offset="0.686" stop-color="#f13f6c"/><stop offset="0.714" stop-color="#f13861"/><stop offset="0.743" stop-color="#f03458"/><stop offset="0.771" stop-color="#ef3150"/><stop offset="0.8" stop-color="#ef3049"/><stop offset="0.829" stop-color="#ee3145"/><stop offset="0.857" stop-color="#ee3140"/><stop offset="0.886" stop-color="#ee313c"/><stop offset="0.914" stop-color="#ee3139"/><stop offset="0.943" stop-color="#ee2f36"/><stop offset="0.971" stop-color="#ee2e35"/><stop offset="1" stop-color="#ed2d36"/></linearGradient>
<linearGradient id="g77" gradientUnits="userSpaceOnUse" x1="184" x2="460" y1="0" y2="0"><stop offset="0" stop-color="#73d5e8"/><stop offset="0.029" stop-color="#76d5eb"/><stop offset="0.057" stop-color="#78d5ee"/><stop offset="0.086" stop-color="#78d3ee"/><stop offset="0.114" stop-color="#76d3ed"/><stop offset="0.143" stop-color="#74d2ec"/><stop offset="0.171" stop-color="#73d1ec"/><stop offset="0.2" stop-color="#76d3ea"/><stop offset="0.229" stop-color="#79d5ea"/><stop offset="0.257" stop-color="#79d6e9"/><stop offset="0.286" stop-color="#80d9e9"/><stop offset="0.314" stop-color="#97e1e8"/><stop offset="0.343" stop-color="#b9ece8"/><stop offset="0.371" stop-color="#ddf6f0"/><stop offset="0.4" stop-color="#f7fdfa"/><stop offset="0.429" stop-color="#fff8fd"/><stop offset="0.457" stop-color="#ffe3f2"/><stop offset="0.486" stop-color="#fdcbe0"/><stop offset="0.514" stop-color="#fcb1ce"/><stop offset="0.543" stop-color="#f89bbf"/><stop offset="0.571" stop-color="#f581a9"/><stop offset="0.6" stop-color="#f26591"/><stop offset="0.629" stop-color="#f15081"/><stop offset="0.657" stop-color="#f14176"/><stop offset="0.686" stop-color="#f1386b"/><stop offset="0.714" stop-color="#f03361"/><stop offset="0.743" stop-color="#ef3059"/><stop offset="0.771" stop-color="#ef2d51"/><stop offset="0.8" stop-color="#ee2d4b"/><stop offset="0.829" stop-color="#ee2e46"/><stop offset="0.857" stop-color="#ee2f42"/><stop offset="0.886" stop-color="#ee2f3e"/><stop offset="0.914" stop-color="#ee2e3b"/><stop offset="0.943" stop-color="#ed2d39"/><stop offset="0.971" stop-color="#ed2c38"/><stop offset="1" stop-color="#ed2b3a"/></linearGradient>
<linearGradient id="g78" gradientUnits="userSpaceOnUse" x1="184" x2="463" y1="0" y2="0"><stop offset="0" stop-color="#73d5e8"/><stop offset="0.029" stop-color="#75d5eb"/><stop offset="0.057" stop-color="#77d4ee"/><stop offset="0.086" stop-color="#77d3ef"/><stop offset="0.114" stop-color="#75d2ee"/><stop offset="0.143" stop-color="#73d1ed"/><stop offset="0.171" stop-color="#72d0ed"/><stop offset="0.2" stop-color="#76d3ec"/><stop offset="0.229" stop-color="#79d5ec"/><stop offset="0.257" stop-color="#78d5eb"/><stop offset="0.286" stop-color="#82d9ec"/><stop offset="0.314" stop-color="#9de2ec"/><stop offset="0.343" stop-color="#c1eeee"/><stop offset="0.371" stop-color="#e5f9f6"/><stop offset="0.4" stop-color="#fcfdfe"/><stop offset="0.429" stop-color="#fff0fb"/><stop offset="0.457" stop-color="#fed6ec"/><stop offset="0.486" stop-color="#fcbbd9"/><stop offset="0.514" stop-color="#faa3c9"/><stop offset="0.543" stop-color="#f78eba"/><stop offset="0.571" stop-color="#f474a3"/><stop offset="0.6" stop-color="#f25a8e"/><stop offset="0.629" stop-color="#f14780"/><stop offset="0.657" stop-color="#f03a76"/><stop offset="0.686" stop-color="#f0326c"/><stop offset="0.714" stop-color="#ef2e62"/><stop offset="0.743" stop-color="#ef2c5a"/><stop offset="0.771" stop-color="#ee2b53"/><stop offset="0.8" stop-color="#ee2b4d"/><stop offset="0.829" stop-color="#ed2c48"/><stop offset="0.857" stop-color="#ed2d43"/><stop offset="0.886" stop-color="#ed2c40"/><stop offset="0.914" stop-color="#ed2b3d"/><stop offset="0.943" stop-color="#ed2a3c"/><stop offset="0.971" stop-color="#ed293c"/><stop offset="1" stop-color="#ec283e"/></linearGradient>
<linearGradient id="g79" gradientUnits="userSpaceOnUse" x1="185" x2="466" y1="0" y2="0"><stop offset="0" stop-color="#72d5e8"/><stop offset="0.028" stop-color="#74d5eb"/><stop offset="0.056" stop-color="#77d4ee"/><stop offset="0.083" stop-color="#76d2ef"/><stop offset="0.111" stop-color="#74d1ef"/><stop offset="0.139" stop-color="#72d0ee"/><stop offset="0.167" stop-color="#71d0ee"/><stop offset="0.194" stop-color="#75d2ed"/><stop offset="0.222" stop-color="#79d4ee"/><stop offset="0.25" stop-color="#77d4ed"/><stop offset="0.278" stop-color="#81d7ee"/><stop offset="0.306" stop-color="#9be0f0"/><stop offset="0.333" stop-color="#bfecf2"/><stop offset="0.361" stop-color="#e3f7f8"/><stop offset="0.389" stop-color="#fafbfe"/><stop offset="0.417" stop-color="#ffeffb"/><stop offset="0.444" stop-color="#fed5ed"/><stop offset="0.472" stop-color="#fbb7da"/><stop offset="0.5" stop-color="#fa9dc9"/><stop offset="0.528" stop-color="#f78bbb"/><stop offset="0.556" stop-color="#f476a9"/><stop offset="0.583" stop-color="#f25d94"/><stop offset="0.611" stop-color="#f14886"/><stop offset="0.639" stop-color="#f0397c"/><stop offset="0.667" stop-color="#f03072"/><stop offset="0.694" stop-color="#ef2c69"/><stop offset="0.722" stop-color="#ef2a60"/><stop offset="0.75" stop-color="#ee2859"/><stop offset="0.778" stop-color="#ed2853"/><stop offset="0.806" stop-color="#ed294d"/><stop offset="0.833" stop-color="#ed2a49"/><stop offset="0.861" stop-color="#ed2a45"/><stop offset="0.889" stop-color="#ed2a42"/><stop offset="0.917" stop-color="#ed2940"/><stop offset="0.944" stop-color="#ed283f"/><stop offset="0.972" stop-color="#ec2740"/><stop offset="1" stop-color="#ec2741"/></linearGradient>
<linearGradient id="g80" gradientUnits="userSpaceOnUse" x1="185" x2="469" y1="0" y2="0"><stop offset="0" stop-color="#71d5e9"/><stop offset="0.028" stop-color="#73d5eb"/><stop offset="0.056" stop-color="#76d3ef"/><stop offset="0.083" stop-color="#75d2f0"/><stop offset="0.111" stop-color="#73d1f0"/><stop offset="0.139" stop-color="#71d0ef"/><stop offset="0.167" stop-color="#71cfef"/><stop offset="0.194" stop-color="#74d1ef"/><stop offset="0.222" stop-color="#79d3ef"/><stop offset="0.25" stop-color="#76d2ee"/><stop offset="0.278" stop-color="#82d7f0"/><stop offset="0.306" stop-color="#a1e0f3"/><stop offset="0.333" stop-color="#c6edf5"/><stop offset="0.361" stop-color="#e9f7fb"/><stop offset="0.389" stop-color="#fbf7ff"/><stop offset="0.417" stop-color="#fee6f8"/><stop offset="0.444" stop-color="#fcc8e7"/><stop offset="0.472" stop-color="#faa8d3"/><stop offset="0.5" stop-color="#f88fc3"/><stop offset="0.528" stop-color="#f57eb5"/><stop offset="0.556" stop-color="#f269a2"/><stop offset="0.583" stop-color="#f15390"/><stop offset="0.611" stop-color="#f04085"/><stop offset="0.639" stop-color="#f0327c"/><stop offset="0.667" stop-color="#ef2b72"/><stop offset="0.694" stop-color="#ef2869"/><stop offset="0.722" stop-color="#ee2761"/><stop offset="0.75" stop-color="#ed265a"/><stop offset="0.778" stop-color="#ed2654"/><stop offset="0.806" stop-color="#ed274f"/><stop offset="0.833" stop-color="#ed284a"/><stop offset="0.861" stop-color="#ed2847"/><stop offset="0.889" stop-color="#ed2844"/><stop offset="0.917" stop-color="#ed2743"/><stop offset="0.944" stop-color="#ec2643"/><stop offset="0.972" stop-color="#ec2544"/><stop offset="1" stop-color="#eb2544"/></linearGradient>
<linearGradient id="g81" gradientUnits="userSpaceOnUse" x1="186" x2="472" y1="0" y2="0"><stop offset="0" stop-color="#71d5e9"/><stop offset="0.028" stop-color="#73d4ec"/><stop offset="0.056" stop-color="#75d2f0"/><stop offset="0.083" stop-color="#74d1f0"/><stop offset="0.111" stop-color="#71d0f0"/><stop offset="0.139" stop-color="#6fcff0"/><stop offset="0.167" stop-color="#70cff0"/><stop offset="0.194" stop-color="#74d0f0"/><stop offset="0.222" stop-color="#77d1f0"/><stop offset="0.25" stop-color="#75d1f0"/><stop offset="0.278" stop-color="#88d6f2"/><stop offset="0.306" stop-color="#aae2f5"/><stop offset="0.333" stop-color="#cfeff9"/><stop offset="0.361" stop-color="#edf5fe"/><stop offset="0.389" stop-color="#faf0fd"/><stop offset="0.417" stop-color="#fcd9f2"/><stop offset="0.444" stop-color="#fab8df"/><stop offset="0.472" stop-color="#f897cb"/><stop offset="0.5" stop-color="#f682bd"/><stop offset="0.528" stop-color="#f370ae"/><stop offset="0.556" stop-color="#f15d9a"/><stop offset="0.583" stop-color="#f0488d"/><stop offset="0.611" stop-color="#f03784"/><stop offset="0.639" stop-color="#ef2b7b"/><stop offset="0.667" stop-color="#ef2772"/><stop offset="0.694" stop-color="#ee2569"/><stop offset="0.722" stop-color="#ed2462"/><stop offset="0.75" stop-color="#ed245c"/><stop offset="0.778" stop-color="#ed2556"/><stop offset="0.806" stop-color="#ec2650"/><stop offset="0.833" stop-color="#ec274c"/><stop offset="0.861" stop-color="#ec2749"/><stop offset="0.889" stop-color="#ec2647"/><stop offset="0.917" stop-color="#ec2547"/><stop offset="0.944" stop-color="#ec2447"/><stop offset="0.972" stop-color="#eb2447"/><stop offset="1" stop-color="#eb2447"/></linearGradient>
<linearGradient id="g82" gradientUnits="userSpaceOnUse" x1="187" x2="474" y1="0" y2="0"><stop offset="0" stop-color="#70d5ea"/><stop offset="0.028" stop-color="#73d4ed"/><stop offset="0.056" stop-color="#75d2f0"/><stop offset="0.083" stop-color="#73d0f1"/><stop offset="0.111" stop-color="#70cff0"/><stop offset="0.139" stop-color="#6ecef0"/><stop offset="0.167" stop-color="#6fcef0"/><stop offset="0.194" stop-color="#73cff1"/><stop offset="0.222" stop-color="#74cff1"/><stop offset="0.25" stop-color="#74cff0"/><stop offset="0.278" stop-color="#8dd6f3"/><stop offset="0.306" stop-color="#b3e3f7"/><stop offset="0.333" stop-color="#d5eefb"/><stop offset="0.361" stop-color="#ecf0fe"/><stop offset="0.389" stop-color="#f8e9fa"/><stop offset="0.417" stop-color="#faccec"/><stop offset="0.444" stop-color="#f8aad8"/><stop offset="0.472" stop-color="#f68ac5"/><stop offset="0.5" stop-color="#f475b7"/><stop offset="0.528" stop-color="#f265a7"/><stop offset="0.556" stop-color="#f05396"/><stop offset="0.583" stop-color="#f0408c"/><stop offset="0.611" stop-color="#ef3083"/><stop offset="0.639" stop-color="#ee267c"/><stop offset="0.667" stop-color="#ee2472"/><stop offset="0.694" stop-color="#ee226b"/><stop offset="0.722" stop-color="#ed2264"/><stop offset="0.75" stop-color="#ec225e"/><stop offset="0.778" stop-color="#ec2357"/><stop offset="0.806" stop-color="#ec2452"/><stop offset="0.833" stop-color="#ec254e"/><stop offset="0.861" stop-color="#ec254c"/><stop offset="0.889" stop-color="#ec254b"/><stop offset="0.917" stop-color="#ec244a"/><stop offset="0.944" stop-color="#eb234a"/><stop offset="0.972" stop-color="#ea234a"/><stop offset="1" stop-color="#ea234b"/></linearGradient>
<linearGradient id="g83" gradientUnits="userSpaceOnUse" x1="187" x2="477" y1="0" y2="0"><stop offset="0" stop-color="#70d4eb"/><stop offset="0.027" stop-color="#72d3ed"/><stop offset="0.054" stop-color="#74d1f1"/><stop offset="0.081" stop-color="#72cff1"/><stop offset="0.108" stop-color="#6fcef1"/><stop offset="0.135" stop-color="#6dcdf1"/><stop offset="0.162" stop-color="#6ecdf1"/><stop offset="0.189" stop-color="#71cdf1"/><stop offset="0.216" stop-color="#73cdf1"/><stop offset="0.243" stop-color="#73ccf1"/><stop offset="0.27" stop-color="#88d2f3"/><stop offset="0.297" stop-color="#acdff7"/><stop offset="0.324" stop-color="#d0ebfb"/><stop offset="0.351" stop-color="#e3ecfd"/><stop offset="0.378" stop-color="#f2e4f9"/><stop offset="0.405" stop-color="#f8cded"/><stop offset="0.432" stop-color="#f7abd9"/><stop offset="0.459" stop-color="#f58ac6"/><stop offset="0.486" stop-color="#f372b8"/><stop offset="0.514" stop-color="#f161aa"/><stop offset="0.541" stop-color="#f05399"/><stop offset="0.568" stop-color="#ef428f"/><stop offset="0.595" stop-color="#ef3287"/><stop offset="0.622" stop-color="#ee2481"/><stop offset="0.649" stop-color="#ee2178"/><stop offset="0.676" stop-color="#ed2070"/><stop offset="0.703" stop-color="#ed206a"/><stop offset="0.73" stop-color="#ec2064"/><stop offset="0.757" stop-color="#ec215d"/><stop offset="0.784" stop-color="#ec2258"/><stop offset="0.811" stop-color="#ec2353"/><stop offset="0.838" stop-color="#ec2350"/><stop offset="0.865" stop-color="#ec234f"/><stop offset="0.892" stop-color="#ec234e"/><stop offset="0.919" stop-color="#eb224d"/><stop offset="0.946" stop-color="#eb224d"/><stop offset="0.973" stop-color="#ea224d"/><stop offset="1" stop-color="#ea234e"/></linearGradient>
<linearGradient id="g84" gradientUnits="userSpaceOnUse" x1="188" x2="480" y1="0" y2="0"><stop offset="0" stop-color="#70d4ec"/><stop offset="0.027" stop-color="#71d2ee"/><stop offset="0.054" stop-color="#73d0f1"/><stop offset="0.081" stop-color="#70cef1"/><stop offset="0.108" stop-color="#6dcdf1"/><stop offset="0.135" stop-color="#6cccf1"/><stop offset="0.162" stop-color="#6dccf1"/><stop offset="0.189" stop-color="#6fccf1"/><stop offset="0.216" stop-color="#71cbf1"/><stop offset="0.243" stop-color="#76cbf1"/><stop offset="0.27" stop-color="#8ed1f4"/><stop offset="0.297" stop-color="#b6dff8"/><stop offset="0.324" stop-color="#d3e8fb"/><stop offset="0.351" stop-color="#e1e4fc"/><stop offset="0.378" stop-color="#f0d8f4"/><stop offset="0.405" stop-color="#f5bce5"/><stop offset="0.432" stop-color="#f59ad1"/><stop offset="0.459" stop-color="#f27bbf"/><stop offset="0.486" stop-color="#f164b1"/><stop offset="0.514" stop-color="#f056a4"/><stop offset="0.541" stop-color="#ef4896"/><stop offset="0.568" stop-color="#ef398d"/><stop offset="0.595" stop-color="#ee2b86"/><stop offset="0.622" stop-color="#ee2080"/><stop offset="0.649" stop-color="#ed1f78"/><stop offset="0.676" stop-color="#ed1e71"/><stop offset="0.703" stop-color="#ec1e6b"/><stop offset="0.73" stop-color="#ec1e65"/><stop offset="0.757" stop-color="#ec205e"/><stop offset="0.784" stop-color="#eb2159"/><stop offset="0.811" stop-color="#eb2255"/><stop offset="0.838" stop-color="#eb2253"/><stop offset="0.865" stop-color="#ec2252"/><stop offset="0.892" stop-color="#eb2251"/><stop offset="0.919" stop-color="#eb2151"/><stop offset="0.946" stop-color="#ea2150"/><stop offset="0.973" stop-color="#e92150"/><stop offset="1" stop-color="#ea2252"/></linearGradient>
<linearGradient id="g85" gradientUnits="userSpaceOnUse" x1="189" x2="483" y1="0" y2="0"><stop offset="0" stop-color="#70d3ec"/><stop offset="0.027" stop-color="#71d2ef"/><stop offset="0.054" stop-color="#71cff1"/><stop offset="0.081" stop-color="#6ecdf1"/><stop offset="0.108" stop-color="#6bccf1"/><stop offset="0.135" stop-color="#6acbf1"/><stop offset="0.162" stop-color="#6ccaf1"/><stop offset="0.189" stop-color="#6ec9f1"/><stop offset="0.216" stop-color="#71c8f1"/><stop offset="0.243" stop-color="#79c9f2"/><stop offset="0.27" stop-color="#94cff4"/><stop offset="0.297" stop-color="#bedff8"/><stop offset="0.324" stop-color="#d3e2fb"/><stop offset="0.351" stop-color="#dfdbf9"/><stop offset="0.378" stop-color="#eecaee"/><stop offset="0.405" stop-color="#f3acdc"/><stop offset="0.432" stop-color="#f28ac8"/><stop offset="0.459" stop-color="#f06cb8"/><stop offset="0.486" stop-color="#ef57ab"/><stop offset="0.514" stop-color="#ef4b9e"/><stop offset="0.541" stop-color="#ee3f93"/><stop offset="0.568" stop-color="#ee318c"/><stop offset="0.595" stop-color="#ee2586"/><stop offset="0.622" stop-color="#ed1e7f"/><stop offset="0.649" stop-color="#ed1d78"/><stop offset="0.676" stop-color="#ec1c72"/><stop offset="0.703" stop-color="#ec1c6d"/><stop offset="0.73" stop-color="#eb1d66"/><stop offset="0.757" stop-color="#eb1f60"/><stop offset="0.784" stop-color="#eb205a"/><stop offset="0.811" stop-color="#eb2157"/><stop offset="0.838" stop-color="#eb2156"/><stop offset="0.865" stop-color="#eb2155"/><stop offset="0.892" stop-color="#eb2055"/><stop offset="0.919" stop-color="#ea2054"/><stop offset="0.946" stop-color="#e92052"/><stop offset="0.973" stop-color="#e92153"/><stop offset="1" stop-color="#ea2254"/></linearGradient>
<linearGradient id="g86" gradientUnits="userSpaceOnUse" x1="189" x2="484" y1="0" y2="0"><stop offset="0" stop-color="#6fd3ed"/><stop offset="0.027" stop-color="#70d1ef"/><stop offset="0.054" stop-color="#6fcff1"/><stop offset="0.081" stop-color="#6cccf1"/><stop offset="0.108" stop-color="#6acbf1"/><stop offset="0.135" stop-color="#69caf1"/><stop offset="0.162" stop-color="#6ac9f1"/><stop offset="0.189" stop-color="#6cc7f1"/><stop offset="0.216" stop-color="#70c5f1"/><stop offset="0.243" stop-color="#7ac6f1"/><stop offset="0.27" stop-color="#93cbf3"/><stop offset="0.297" stop-color="#bad9f7"/><stop offset="0.324" stop-color="#cfdcfa"/><stop offset="0.351" stop-color="#dbd3f6"/><stop offset="0.378" stop-color="#ebc0ea"/><stop offset="0.405" stop-color="#f1a1d7"/><stop offset="0.432" stop-color="#f080c3"/><stop offset="0.459" stop-color="#ee63b4"/><stop offset="0.486" stop-color="#ee4ea8"/><stop offset="0.514" stop-color="#ee439c"/><stop offset="0.541" stop-color="#ee3993"/><stop offset="0.568" stop-color="#ee2d8c"/><stop offset="0.595" stop-color="#ed2286"/><stop offset="0.622" stop-color="#ed1d80"/><stop offset="0.649" stop-color="#ed1b79"/><stop offset="0.676" stop-color="#ec1b74"/><stop offset="0.703" stop-color="#eb1b6f"/><stop offset="0.73" stop-color="#eb1c68"/><stop offset="0.757" stop-color="#eb1e62"/><stop offset="0.784" stop-color="#eb1f5d"/><stop offset="0.811" stop-color="#ea1f59"/><stop offset="0.838" stop-color="#eb2059"/><stop offset="0.865" stop-color="#eb2059"/><stop offset="0.892" stop-color="#eb1f58"/><stop offset="0.919" stop-color="#ea1f57"/><stop offset="0.946" stop-color="#e91f55"/><stop offset="0.973" stop-color="#e92056"/><stop offset="1" stop-color="#ea2157"/></linearGradient>
<linearGradient id="g87" gradientUnits="userSpaceOnUse" x1="190" x2="483" y1="0" y2="0"><stop offset="0" stop-color="#6fd2ee"/><stop offset="0.027" stop-color="#6fd0f0"/><stop offset="0.054" stop-color="#6dcdf1"/><stop offset="0.081" stop-color="#6acbf1"/><stop offset="0.108" stop-color="#68caf0"/><stop offset="0.135" stop-color="#67c8f1"/><stop offset="0.162" stop-color="#69c7f1"/><stop offset="0.189" stop-color="#6bc5f1"/><stop offset="0.216" stop-color="#6fc2f1"/><stop offset="0.243" stop-color="#7bc2f1"/><stop offset="0.27" stop-color="#92c6f2"/><stop offset="0.297" stop-color="#b5d1f5"/><stop offset="0.324" stop-color="#cbd5f8"/><stop offset="0.351" stop-color="#d9caf3"/><stop offset="0.378" stop-color="#e9b6e5"/><stop offset="0.405" stop-color="#ef98d3"/><stop offset="0.432" stop-color="#ef77bf"/><stop offset="0.459" stop-color="#ed5bb1"/><stop offset="0.486" stop-color="#ed45a6"/><stop offset="0.514" stop-color="#ed3d9b"/><stop offset="0.541" stop-color="#ed3493"/><stop offset="0.568" stop-color="#ed2a8c"/><stop offset="0.595" stop-color="#ed2187"/><stop offset="0.622" stop-color="#ed1b81"/><stop offset="0.649" stop-color="#ec1a7b"/><stop offset="0.676" stop-color="#ec1a76"/><stop offset="0.703" stop-color="#eb1a72"/><stop offset="0.73" stop-color="#eb1b6b"/><stop offset="0.757" stop-color="#eb1c65"/><stop offset="0.784" stop-color="#ea1d60"/><stop offset="0.811" stop-color="#ea1e5c"/><stop offset="0.838" stop-color="#eb1f5c"/><stop offset="0.865" stop-color="#eb1f5d"/><stop offset="0.892" stop-color="#eb1e5c"/><stop offset="0.919" stop-color="#ea1e5a"/><stop offset="0.946" stop-color="#e91e58"/><stop offset="0.973" stop-color="#e91f58"/><stop offset="1" stop-color="#ea2059"/></linearGradient>
<linearGradient id="g88" gradientUnits="userSpaceOnUse" x1="191" x2="476" y1="0" y2="0"><stop offset="0" stop-color="#6ed2ee"/><stop offset="0.028" stop-color="#6dd0f0"/><stop offset="0.056" stop-color="#6accf1"/><stop offset="0.083" stop-color="#67caf1"/><stop offset="0.111" stop-color="#66c8f0"/><stop offset="0.139" stop-color="#66c7f1"/><stop offset="0.167" stop-color="#67c4f1"/><stop offset="0.194" stop-color="#6ac2f1"/><stop offset="0.222" stop-color="#6fbff0"/><stop offset="0.25" stop-color="#7cbef0"/><stop offset="0.278" stop-color="#91c0f1"/><stop offset="0.306" stop-color="#b2c9f3"/><stop offset="0.333" stop-color="#cacdf6"/><stop offset="0.361" stop-color="#d9bfee"/><stop offset="0.389" stop-color="#e7a9e0"/><stop offset="0.417" stop-color="#ed8ccd"/><stop offset="0.444" stop-color="#ed6cba"/><stop offset="0.472" stop-color="#ec51ae"/><stop offset="0.5" stop-color="#ec3da3"/><stop offset="0.528" stop-color="#ed379a"/><stop offset="0.556" stop-color="#ed2f92"/><stop offset="0.583" stop-color="#ed268c"/><stop offset="0.611" stop-color="#ed1e87"/><stop offset="0.639" stop-color="#ec1a82"/><stop offset="0.667" stop-color="#ec197c"/><stop offset="0.694" stop-color="#eb1978"/><stop offset="0.722" stop-color="#eb1973"/><stop offset="0.75" stop-color="#eb1a6d"/><stop offset="0.778" stop-color="#ea1c67"/><stop offset="0.806" stop-color="#ea1d62"/><stop offset="0.833" stop-color="#ea1d5f"/><stop offset="0.861" stop-color="#eb1e60"/><stop offset="0.889" stop-color="#eb1e60"/><stop offset="0.917" stop-color="#eb1d5f"/><stop offset="0.944" stop-color="#ea1d5d"/><stop offset="0.972" stop-color="#e91d5b"/><stop offset="1" stop-color="#e91e5b"/></linearGradient>
<linearGradient id="g89" gradientUnits="userSpaceOnUse" x1="191" x2="470" y1="0" y2="0"><stop offset="0" stop-color="#6dd1ef"/><stop offset="0.029" stop-color="#6ccff0"/><stop offset="0.057" stop-color="#69cbf0"/><stop offset="0.086" stop-color="#65c8f0"/><stop offset="0.114" stop-color="#64c7f0"/><stop offset="0.143" stop-color="#64c5f1"/><stop offset="0.171" stop-color="#66c2f0"/><stop offset="0.2" stop-color="#68bff0"/><stop offset="0.229" stop-color="#6ebbef"/><stop offset="0.257" stop-color="#7bbaef"/><stop offset="0.286" stop-color="#8fbaef"/><stop offset="0.314" stop-color="#afc1f1"/><stop offset="0.343" stop-color="#c8c4f3"/><stop offset="0.371" stop-color="#d8b5e9"/><stop offset="0.4" stop-color="#e69eda"/><stop offset="0.429" stop-color="#ec80c7"/><stop offset="0.457" stop-color="#eb62b6"/><stop offset="0.486" stop-color="#eb48aa"/><stop offset="0.514" stop-color="#eb37a0"/><stop offset="0.543" stop-color="#ec3198"/><stop offset="0.571" stop-color="#ec2a91"/><stop offset="0.6" stop-color="#ec228c"/><stop offset="0.629" stop-color="#ec1c87"/><stop offset="0.657" stop-color="#ec1982"/><stop offset="0.686" stop-color="#ec187d"/><stop offset="0.714" stop-color="#eb1879"/><stop offset="0.743" stop-color="#eb1874"/><stop offset="0.771" stop-color="#ea1a6e"/><stop offset="0.8" stop-color="#ea1b69"/><stop offset="0.829" stop-color="#ea1c64"/><stop offset="0.857" stop-color="#ea1d61"/><stop offset="0.886" stop-color="#eb1d64"/><stop offset="0.914" stop-color="#eb1d64"/><stop offset="0.943" stop-color="#eb1d62"/><stop offset="0.971" stop-color="#ea1d5f"/><stop offset="1" stop-color="#e91d5d"/></linearGradient>
<linearGradient id="g90" gradientUnits="userSpaceOnUse" x1="192" x2="464" y1="0" y2="0"><stop offset="0" stop-color="#6dd1ef"/><stop offset="0.029" stop-color="#6bcef0"/><stop offset="0.059" stop-color="#66c9f0"/><stop offset="0.088" stop-color="#63c6f0"/><stop offset="0.118" stop-color="#62c5f0"/><stop offset="0.147" stop-color="#63c3f0"/><stop offset="0.176" stop-color="#64bff0"/><stop offset="0.206" stop-color="#67bbef"/><stop offset="0.235" stop-color="#6eb7ee"/><stop offset="0.265" stop-color="#7db5ed"/><stop offset="0.294" stop-color="#8fb4ed"/><stop offset="0.324" stop-color="#b0bbef"/><stop offset="0.353" stop-color="#c8b9ee"/><stop offset="0.382" stop-color="#d9a8e3"/><stop offset="0.412" stop-color="#e590d3"/><stop offset="0.441" stop-color="#ea73c1"/><stop offset="0.471" stop-color="#ea57b2"/><stop offset="0.5" stop-color="#ea3fa6"/><stop offset="0.529" stop-color="#eb319d"/><stop offset="0.559" stop-color="#eb2b96"/><stop offset="0.588" stop-color="#ec2590"/><stop offset="0.618" stop-color="#ec1f8b"/><stop offset="0.647" stop-color="#ec1a87"/><stop offset="0.676" stop-color="#ec1882"/><stop offset="0.706" stop-color="#eb177e"/><stop offset="0.735" stop-color="#eb187a"/><stop offset="0.765" stop-color="#ea1875"/><stop offset="0.794" stop-color="#ea196f"/><stop offset="0.824" stop-color="#ea1a6a"/><stop offset="0.853" stop-color="#e91b66"/><stop offset="0.882" stop-color="#ea1c64"/><stop offset="0.912" stop-color="#eb1c68"/><stop offset="0.941" stop-color="#eb1c67"/><stop offset="0.971" stop-color="#ea1c64"/><stop offset="1" stop-color="#ea1c61"/></linearGradient>
<linearGradient id="g91" gradientUnits="userSpaceOnUse" x1="193" x2="458" y1="0" y2="0"><stop offset="0" stop-color="#6cd0f0"/><stop offset="0.029" stop-color="#69cdf0"/><stop offset="0.059" stop-color="#64c8f0"/><stop offset="0.088" stop-color="#60c4f0"/><stop offset="0.118" stop-color="#60c3f0"/><stop offset="0.147" stop-color="#61c1f0"/><stop offset="0.176" stop-color="#63bdef"/><stop offset="0.206" stop-color="#66b8ee"/><stop offset="0.235" stop-color="#6cb3ed"/><stop offset="0.265" stop-color="#79b0ec"/><stop offset="0.294" stop-color="#8cafec"/><stop offset="0.324" stop-color="#a8b2ec"/><stop offset="0.353" stop-color="#c2b2eb"/><stop offset="0.382" stop-color="#d3a3e2"/><stop offset="0.412" stop-color="#e18ed3"/><stop offset="0.441" stop-color="#e873c3"/><stop offset="0.471" stop-color="#e958b4"/><stop offset="0.5" stop-color="#e941a8"/><stop offset="0.529" stop-color="#ea319f"/><stop offset="0.559" stop-color="#eb2998"/><stop offset="0.588" stop-color="#eb2492"/><stop offset="0.618" stop-color="#eb208e"/><stop offset="0.647" stop-color="#eb1b89"/><stop offset="0.676" stop-color="#eb1885"/><stop offset="0.706" stop-color="#eb1781"/><stop offset="0.735" stop-color="#eb177e"/><stop offset="0.765" stop-color="#ea177a"/><stop offset="0.794" stop-color="#ea1875"/><stop offset="0.824" stop-color="#ea1970"/><stop offset="0.853" stop-color="#e91a6b"/><stop offset="0.882" stop-color="#e91b67"/><stop offset="0.912" stop-color="#ea1b69"/><stop offset="0.941" stop-color="#eb1b6b"/><stop offset="0.971" stop-color="#eb1b6a"/><stop offset="1" stop-color="#ea1b67"/></linearGradient>
<linearGradient id="g92" gradientUnits="userSpaceOnUse" x1="193" x2="452" y1="0" y2="0"><stop offset="0" stop-color="#6bd0f0"/><stop offset="0.03" stop-color="#68ccf0"/><stop offset="0.061" stop-color="#61c6f0"/><stop offset="0.091" stop-color="#5ec3ef"/><stop offset="0.121" stop-color="#5fc1f0"/><stop offset="0.152" stop-color="#60bfef"/><stop offset="0.182" stop-color="#61baee"/><stop offset="0.212" stop-color="#64b5ed"/><stop offset="0.242" stop-color="#6bafeb"/><stop offset="0.273" stop-color="#78aaea"/><stop offset="0.303" stop-color="#8eaaea"/><stop offset="0.333" stop-color="#a8abea"/><stop offset="0.364" stop-color="#c1a7e7"/><stop offset="0.394" stop-color="#d298dd"/><stop offset="0.424" stop-color="#e083ce"/><stop offset="0.455" stop-color="#e669bf"/><stop offset="0.485" stop-color="#e750b1"/><stop offset="0.515" stop-color="#e83aa6"/><stop offset="0.545" stop-color="#e92c9d"/><stop offset="0.576" stop-color="#ea2597"/><stop offset="0.606" stop-color="#eb2192"/><stop offset="0.636" stop-color="#eb1d8d"/><stop offset="0.667" stop-color="#eb1a89"/><stop offset="0.697" stop-color="#eb1785"/><stop offset="0.727" stop-color="#eb1782"/><stop offset="0.758" stop-color="#ea177f"/><stop offset="0.788" stop-color="#ea177b"/><stop offset="0.818" stop-color="#ea1876"/><stop offset="0.848" stop-color="#ea1971"/><stop offset="0.879" stop-color="#e9196d"/><stop offset="0.909" stop-color="#e91a6a"/><stop offset="0.939" stop-color="#ea1a6e"/><stop offset="0.97" stop-color="#eb1b6e"/><stop offset="1" stop-color="#eb1b6c"/></linearGradient>
<linearGradient id="g93" gradientUnits="userSpaceOnUse" x1="194" x2="446" y1="0" y2="0"><stop offset="0" stop-color="#6acff0"/><stop offset="0.031" stop-color="#67cbf0"/><stop offset="0.062" stop-color="#5fc4ef"/><stop offset="0.094" stop-color="#5cc1ef"/><stop offset="0.125" stop-color="#5dbfef"/><stop offset="0.156" stop-color="#5ebcef"/><stop offset="0.188" stop-color="#60b7ed"/><stop offset="0.219" stop-color="#63b0eb"/><stop offset="0.25" stop-color="#6aa9e9"/><stop offset="0.281" stop-color="#79a4e7"/><stop offset="0.312" stop-color="#92a6e8"/><stop offset="0.344" stop-color="#aaa3e6"/><stop offset="0.375" stop-color="#c29ce2"/><stop offset="0.406" stop-color="#d38cd6"/><stop offset="0.438" stop-color="#e076c8"/><stop offset="0.469" stop-color="#e55dba"/><stop offset="0.5" stop-color="#e646ad"/><stop offset="0.531" stop-color="#e732a2"/><stop offset="0.562" stop-color="#e9279b"/><stop offset="0.594" stop-color="#ea2195"/><stop offset="0.625" stop-color="#ea1e91"/><stop offset="0.656" stop-color="#ea1b8d"/><stop offset="0.688" stop-color="#eb1889"/><stop offset="0.719" stop-color="#eb1786"/><stop offset="0.75" stop-color="#ea1683"/><stop offset="0.781" stop-color="#ea1780"/><stop offset="0.812" stop-color="#ea177c"/><stop offset="0.844" stop-color="#ea1877"/><stop offset="0.875" stop-color="#e91873"/><stop offset="0.906" stop-color="#e9196f"/><stop offset="0.938" stop-color="#e91a6e"/><stop offset="0.969" stop-color="#eb1a72"/><stop offset="1" stop-color="#eb1a70"/></linearGradient>
<linearGradient id="g94" gradientUnits="userSpaceOnUse" x1="195" x2="440" y1="0" y2="0"><stop offset="0" stop-color="#69cef0"/><stop offset="0.032" stop-color="#65caf0"/><stop offset="0.065" stop-color="#5cc2ef"/><stop offset="0.097" stop-color="#5bbfef"/><stop offset="0.129" stop-color="#5bbdee"/><stop offset="0.161" stop-color="#5db9ee"/><stop offset="0.194" stop-color="#5eb3ec"/><stop offset="0.226" stop-color="#62abe9"/><stop offset="0.258" stop-color="#6aa3e6"/><stop offset="0.29" stop-color="#7a9de4"/><stop offset="0.323" stop-color="#929de4"/><stop offset="0.355" stop-color="#ac99e2"/><stop offset="0.387" stop-color="#c391dc"/><stop offset="0.419" stop-color="#d37fd0"/><stop offset="0.452" stop-color="#df69c3"/><stop offset="0.484" stop-color="#e353b5"/><stop offset="0.516" stop-color="#e53da9"/><stop offset="0.548" stop-color="#e62ca0"/><stop offset="0.581" stop-color="#e82299"/><stop offset="0.613" stop-color="#e91e94"/><stop offset="0.645" stop-color="#ea1c90"/><stop offset="0.677" stop-color="#ea198d"/><stop offset="0.71" stop-color="#ea1789"/><stop offset="0.742" stop-color="#ea1686"/><stop offset="0.774" stop-color="#ea1683"/><stop offset="0.806" stop-color="#ea1781"/><stop offset="0.839" stop-color="#ea177d"/><stop offset="0.871" stop-color="#e91878"/><stop offset="0.903" stop-color="#e91874"/><stop offset="0.935" stop-color="#e91971"/><stop offset="0.968" stop-color="#ea1971"/><stop offset="1" stop-color="#ea1973"/></linearGradient>
<linearGradient id="g95" gradientUnits="userSpaceOnUse" x1="196" x2="434" y1="0" y2="0"><stop offset="0" stop-color="#68cdf0"/><stop offset="0.033" stop-color="#62c8f0"/><stop offset="0.067" stop-color="#5bc1ef"/><stop offset="0.1" stop-color="#59bdee"/><stop offset="0.133" stop-color="#5abaee"/><stop offset="0.167" stop-color="#5bb6ec"/><stop offset="0.2" stop-color="#5daeea"/><stop offset="0.233" stop-color="#60a5e7"/><stop offset="0.267" stop-color="#699ce3"/><stop offset="0.3" stop-color="#7b95e0"/><stop offset="0.333" stop-color="#9393df"/><stop offset="0.367" stop-color="#ad90dd"/><stop offset="0.4" stop-color="#c385d6"/><stop offset="0.433" stop-color="#d473ca"/><stop offset="0.467" stop-color="#de5dbe"/><stop offset="0.5" stop-color="#e249b1"/><stop offset="0.533" stop-color="#e435a6"/><stop offset="0.567" stop-color="#e6279d"/><stop offset="0.6" stop-color="#e81e97"/><stop offset="0.633" stop-color="#e91c93"/><stop offset="0.667" stop-color="#e91a90"/><stop offset="0.7" stop-color="#e9188c"/><stop offset="0.733" stop-color="#ea1789"/><stop offset="0.767" stop-color="#ea1686"/><stop offset="0.8" stop-color="#ea1684"/><stop offset="0.833" stop-color="#ea1782"/><stop offset="0.867" stop-color="#e9177e"/><stop offset="0.9" stop-color="#e9177a"/><stop offset="0.933" stop-color="#e91876"/><stop offset="0.967" stop-color="#e91873"/><stop offset="1" stop-color="#ea1874"/></linearGradient>
<linearGradient id="g96" gradientUnits="userSpaceOnUse" x1="197" x2="428" y1="0" y2="0"><stop offset="0" stop-color="#66ccf0"/><stop offset="0.034" stop-color="#60c6ef"/><stop offset="0.069" stop-color="#59bfef"/><stop offset="0.103" stop-color="#57baee"/><stop offset="0.138" stop-color="#58b7ed"/><stop offset="0.172" stop-color="#5ab3eb"/><stop offset="0.207" stop-color="#5ba9e8"/><stop offset="0.241" stop-color="#5f9fe5"/><stop offset="0.276" stop-color="#6893e0"/><stop offset="0.31" stop-color="#7b8cdc"/><stop offset="0.345" stop-color="#9489da"/><stop offset="0.379" stop-color="#af85d7"/><stop offset="0.414" stop-color="#c479d0"/><stop offset="0.448" stop-color="#d467c4"/><stop offset="0.483" stop-color="#dd53b9"/><stop offset="0.517" stop-color="#e141ad"/><stop offset="0.552" stop-color="#e32da2"/><stop offset="0.586" stop-color="#e6229b"/><stop offset="0.621" stop-color="#e81b96"/><stop offset="0.655" stop-color="#e81a93"/><stop offset="0.69" stop-color="#e81990"/><stop offset="0.724" stop-color="#e9178c"/><stop offset="0.759" stop-color="#ea1689"/><stop offset="0.793" stop-color="#ea1687"/><stop offset="0.828" stop-color="#ea1785"/><stop offset="0.862" stop-color="#e91783"/><stop offset="0.897" stop-color="#e9177f"/><stop offset="0.931" stop-color="#e9177b"/><stop offset="0.966" stop-color="#e91777"/><stop offset="1" stop-color="#e91776"/></linearGradient>
<linearGradient id="g97" gradientUnits="userSpaceOnUse" x1="197" x2="422" y1="0" y2="0"><stop offset="0" stop-color="#65caf0"/><stop offset="0.034" stop-color="#5fc5ef"/><stop offset="0.069" stop-color="#58beee"/><stop offset="0.103" stop-color="#56b8ed"/><stop offset="0.138" stop-color="#56b5ec"/><stop offset="0.172" stop-color="#58b1ea"/><stop offset="0.207" stop-color="#59a6e7"/><stop offset="0.241" stop-color="#5b9ce3"/><stop offset="0.276" stop-color="#6390de"/><stop offset="0.31" stop-color="#7284d8"/><stop offset="0.345" stop-color="#8a81d6"/><stop offset="0.379" stop-color="#a47dd3"/><stop offset="0.414" stop-color="#bb75ce"/><stop offset="0.448" stop-color="#cd65c5"/><stop offset="0.483" stop-color="#d854ba"/><stop offset="0.517" stop-color="#de43b0"/><stop offset="0.552" stop-color="#e132a6"/><stop offset="0.586" stop-color="#e3249e"/><stop offset="0.621" stop-color="#e61d98"/><stop offset="0.655" stop-color="#e71a95"/><stop offset="0.69" stop-color="#e81992"/><stop offset="0.724" stop-color="#e8188e"/><stop offset="0.759" stop-color="#e9178b"/><stop offset="0.793" stop-color="#e91688"/><stop offset="0.828" stop-color="#e91687"/><stop offset="0.862" stop-color="#e91786"/><stop offset="0.897" stop-color="#e91783"/><stop offset="0.931" stop-color="#e91780"/><stop offset="0.966" stop-color="#e9177c"/><stop offset="1" stop-color="#e91779"/></linearGradient>
<linearGradient id="g98" gradientUnits="userSpaceOnUse" x1="198" x2="416" y1="0" y2="0"><stop offset="0" stop-color="#62c9f0"/><stop offset="0.036" stop-color="#5cc3ef"/><stop offset="0.071" stop-color="#57bbee"/><stop offset="0.107" stop-color="#54b5ec"/><stop offset="0.143" stop-color="#54b1eb"/><stop offset="0.179" stop-color="#56ace9"/><stop offset="0.214" stop-color="#579fe5"/><stop offset="0.25" stop-color="#5a95e1"/><stop offset="0.286" stop-color="#6286d9"/><stop offset="0.321" stop-color="#727ad3"/><stop offset="0.357" stop-color="#8a77d1"/><stop offset="0.393" stop-color="#a573ce"/><stop offset="0.429" stop-color="#bc6ac9"/><stop offset="0.464" stop-color="#cd5bbf"/><stop offset="0.5" stop-color="#d84bb6"/><stop offset="0.536" stop-color="#de3cad"/><stop offset="0.571" stop-color="#e02ca3"/><stop offset="0.607" stop-color="#e3219c"/><stop offset="0.643" stop-color="#e61b98"/><stop offset="0.679" stop-color="#e61994"/><stop offset="0.714" stop-color="#e71892"/><stop offset="0.75" stop-color="#e8178e"/><stop offset="0.786" stop-color="#e9178b"/><stop offset="0.821" stop-color="#e91689"/><stop offset="0.857" stop-color="#e91788"/><stop offset="0.893" stop-color="#e91787"/><stop offset="0.929" stop-color="#e91784"/><stop offset="0.964" stop-color="#e91781"/><stop offset="1" stop-color="#e9177d"/></linearGradient>
<linearGradient id="g99" gradientUnits="userSpaceOnUse" x1="199" x2="410" y1="0" y2="0"><stop offset="0" stop-color="#60c7ef"/><stop offset="0.037" stop-color="#5ac0ee"/><stop offset="0.074" stop-color="#54b8ed"/><stop offset="0.111" stop-color="#52b1eb"/><stop offset="0.148" stop-color="#52ade9"/><stop offset="0.185" stop-color="#54a6e7"/><stop offset="0.222" stop-color="#5598e2"/><stop offset="0.259" stop-color="#588cdd"/><stop offset="0.296" stop-color="#617bd4"/><stop offset="0.333" stop-color="#7270ce"/><stop offset="0.37" stop-color="#8b6ecc"/><stop offset="0.407" stop-color="#a669c9"/><stop offset="0.444" stop-color="#bd60c4"/><stop offset="0.481" stop-color="#ce51ba"/><stop offset="0.519" stop-color="#d844b3"/><stop offset="0.556" stop-color="#dd36aa"/><stop offset="0.593" stop-color="#e028a1"/><stop offset="0.63" stop-color="#e31f9b"/><stop offset="0.667" stop-color="#e51a97"/><stop offset="0.704" stop-color="#e61894"/><stop offset="0.741" stop-color="#e61892"/><stop offset="0.778" stop-color="#e7178e"/><stop offset="0.815" stop-color="#e8178b"/><stop offset="0.852" stop-color="#e91689"/><stop offset="0.889" stop-color="#e91789"/><stop offset="0.926" stop-color="#e91788"/><stop offset="0.963" stop-color="#e91785"/><stop offset="1" stop-color="#e91782"/></linearGradient>
<linearGradient id="g100" gradientUnits="userSpaceOnUse" x1="200" x2="404" y1="0" y2="0"><stop offset="0" stop-color="#5dc4ef"/><stop offset="0.038" stop-color="#58beee"/><stop offset="0.077" stop-color="#52b4ec"/><stop offset="0.115" stop-color="#50ade9"/><stop offset="0.154" stop-color="#50a9e8"/><stop offset="0.192" stop-color="#52a0e5"/><stop offset="0.231" stop-color="#548fde"/><stop offset="0.269" stop-color="#5782d8"/><stop offset="0.308" stop-color="#6070cf"/><stop offset="0.346" stop-color="#7268ca"/><stop offset="0.385" stop-color="#8d65c7"/><stop offset="0.423" stop-color="#a861c4"/><stop offset="0.462" stop-color="#bf57bf"/><stop offset="0.5" stop-color="#ce49b6"/><stop offset="0.538" stop-color="#d73eb0"/><stop offset="0.577" stop-color="#dd31a7"/><stop offset="0.615" stop-color="#e025a0"/><stop offset="0.654" stop-color="#e31d9a"/><stop offset="0.692" stop-color="#e41997"/><stop offset="0.731" stop-color="#e51894"/><stop offset="0.769" stop-color="#e61891"/><stop offset="0.808" stop-color="#e7178e"/><stop offset="0.846" stop-color="#e8178b"/><stop offset="0.885" stop-color="#e91789"/><stop offset="0.923" stop-color="#e8178a"/><stop offset="0.962" stop-color="#e81789"/><stop offset="1" stop-color="#e91786"/></linearGradient>
<linearGradient id="g101" gradientUnits="userSpaceOnUse" x1="201" x2="398" y1="0" y2="0"><stop offset="0" stop-color="#5bc2ee"/><stop offset="0.04" stop-color="#55bbed"/><stop offset="0.08" stop-color="#50b0ea"/><stop offset="0.12" stop-color="#4ea8e7"/><stop offset="0.16" stop-color="#4ea4e6"/><stop offset="0.2" stop-color="#5098e2"/><stop offset="0.24" stop-color="#5386da"/><stop offset="0.28" stop-color="#5578d3"/><stop offset="0.32" stop-color="#5f67ca"/><stop offset="0.36" stop-color="#7361c7"/><stop offset="0.4" stop-color="#8f5dc2"/><stop offset="0.44" stop-color="#aa59c1"/><stop offset="0.48" stop-color="#c14fbb"/><stop offset="0.52" stop-color="#cf43b3"/><stop offset="0.56" stop-color="#d738ad"/><stop offset="0.6" stop-color="#dc2ca5"/><stop offset="0.64" stop-color="#e0229e"/><stop offset="0.68" stop-color="#e31c9a"/><stop offset="0.72" stop-color="#e41997"/><stop offset="0.76" stop-color="#e41895"/><stop offset="0.8" stop-color="#e51891"/><stop offset="0.84" stop-color="#e7178e"/><stop offset="0.88" stop-color="#e8178a"/><stop offset="0.92" stop-color="#e8178a"/><stop offset="0.96" stop-color="#e8178b"/><stop offset="1" stop-color="#e81789"/></linearGradient>
<linearGradient id="g102" gradientUnits="userSpaceOnUse" x1="202" x2="392" y1="0" y2="0"><stop offset="0" stop-color="#59c0ee"/><stop offset="0.042" stop-color="#53b7eb"/><stop offset="0.083" stop-color="#4dabe8"/><stop offset="0.125" stop-color="#4ba2e5"/><stop offset="0.167" stop-color="#4c9ee3"/><stop offset="0.208" stop-color="#4d8fde"/><stop offset="0.25" stop-color="#517cd6"/><stop offset="0.292" stop-color="#546ecf"/><stop offset="0.333" stop-color="#5f5fc7"/><stop offset="0.375" stop-color="#765ac4"/><stop offset="0.417" stop-color="#9257bf"/><stop offset="0.458" stop-color="#ad53bf"/><stop offset="0.5" stop-color="#c248b8"/><stop offset="0.542" stop-color="#cf3eb1"/><stop offset="0.583" stop-color="#d733aa"/><stop offset="0.625" stop-color="#dc29a3"/><stop offset="0.667" stop-color="#e0209d"/><stop offset="0.708" stop-color="#e21b99"/><stop offset="0.75" stop-color="#e31997"/><stop offset="0.792" stop-color="#e31895"/><stop offset="0.833" stop-color="#e51891"/><stop offset="0.875" stop-color="#e6178d"/><stop offset="0.917" stop-color="#e8178a"/><stop offset="0.958" stop-color="#e8178a"/><stop offset="1" stop-color="#e8178b"/></linearGradient>
<linearGradient id="g103" gradientUnits="userSpaceOnUse" x1="203" x2="386" y1="0" y2="0"><stop offset="0" stop-color="#56bded"/><stop offset="0.043" stop-color="#50b3ea"/><stop offset="0.087" stop-color="#4ba5e5"/><stop offset="0.13" stop-color="#499ce2"/><stop offset="0.174" stop-color="#4a97e1"/><stop offset="0.217" stop-color="#4b85da"/><stop offset="0.261" stop-color="#4e73d2"/><stop offset="0.304" stop-color="#5365ca"/><stop offset="0.348" stop-color="#6159c4"/><stop offset="0.391" stop-color="#7a55c1"/><stop offset="0.435" stop-color="#9651bd"/><stop offset="0.478" stop-color="#b04dbd"/><stop offset="0.522" stop-color="#c343b6"/><stop offset="0.565" stop-color="#cf39af"/><stop offset="0.609" stop-color="#d72fa8"/><stop offset="0.652" stop-color="#dc26a2"/><stop offset="0.696" stop-color="#e01f9c"/><stop offset="0.739" stop-color="#e11b99"/><stop offset="0.783" stop-color="#e11998"/><stop offset="0.826" stop-color="#e21995"/><stop offset="0.87" stop-color="#e41891"/><stop offset="0.913" stop-color="#e6178d"/><stop offset="0.957" stop-color="#e8178a"/><stop offset="1" stop-color="#e8178b"/></linearGradient>
<linearGradient id="g104" gradientUnits="userSpaceOnUse" x1="204" x2="380" y1="0" y2="0"><stop offset="0" stop-color="#54baec"/><stop offset="0.045" stop-color="#4eaee8"/><stop offset="0.091" stop-color="#489ee2"/><stop offset="0.136" stop-color="#4695df"/><stop offset="0.182" stop-color="#478edd"/><stop offset="0.227" stop-color="#487bd5"/><stop offset="0.273" stop-color="#4b6bce"/><stop offset="0.318" stop-color="#535dc6"/><stop offset="0.364" stop-color="#6453c1"/><stop offset="0.409" stop-color="#7f50be"/><stop offset="0.455" stop-color="#9b4dbc"/><stop offset="0.5" stop-color="#b348bb"/><stop offset="0.545" stop-color="#c53eb3"/><stop offset="0.591" stop-color="#d035ad"/><stop offset="0.636" stop-color="#d72ca6"/><stop offset="0.682" stop-color="#dc24a1"/><stop offset="0.727" stop-color="#e01e9c"/><stop offset="0.773" stop-color="#e01a9a"/><stop offset="0.818" stop-color="#e01a98"/><stop offset="0.864" stop-color="#e21995"/><stop offset="0.909" stop-color="#e41891"/><stop offset="0.955" stop-color="#e6188c"/><stop offset="1" stop-color="#e8178a"/></linearGradient>
<linearGradient id="g105" gradientUnits="userSpaceOnUse" x1="205" x2="373" y1="0" y2="0"><stop offset="0" stop-color="#51b6ea"/><stop offset="0.048" stop-color="#4aa7e5"/><stop offset="0.095" stop-color="#4597df"/><stop offset="0.143" stop-color="#438ddb"/><stop offset="0.19" stop-color="#4483d8"/><stop offset="0.238" stop-color="#4572d1"/><stop offset="0.286" stop-color="#4963c9"/><stop offset="0.333" stop-color="#5457c3"/><stop offset="0.381" stop-color="#684fbf"/><stop offset="0.429" stop-color="#834cbc"/><stop offset="0.476" stop-color="#9d49ba"/><stop offset="0.524" stop-color="#b544b8"/><stop offset="0.571" stop-color="#c53ab1"/><stop offset="0.619" stop-color="#cf32ab"/><stop offset="0.667" stop-color="#d629a5"/><stop offset="0.714" stop-color="#db22a0"/><stop offset="0.762" stop-color="#df1d9c"/><stop offset="0.81" stop-color="#df1b9a"/><stop offset="0.857" stop-color="#df1a99"/><stop offset="0.905" stop-color="#e11995"/><stop offset="0.952" stop-color="#e41891"/><stop offset="1" stop-color="#e6188c"/></linearGradient>
<linearGradient id="g106" gradientUnits="userSpaceOnUse" x1="206" x2="367" y1="0" y2="0"><stop offset="0" stop-color="#4fb1e9"/><stop offset="0.048" stop-color="#479fe2"/><stop offset="0.095" stop-color="#4290dc"/><stop offset="0.143" stop-color="#4186d8"/><stop offset="0.19" stop-color="#407bd4"/><stop offset="0.238" stop-color="#426cce"/><stop offset="0.286" stop-color="#475fc7"/><stop offset="0.333" stop-color="#5053c1"/><stop offset="0.381" stop-color="#644dbe"/><stop offset="0.429" stop-color="#7d49bb"/><stop offset="0.476" stop-color="#9646b9"/><stop offset="0.524" stop-color="#ad42b7"/><stop offset="0.571" stop-color="#be3bb3"/><stop offset="0.619" stop-color="#ca33ad"/><stop offset="0.667" stop-color="#d22ca7"/><stop offset="0.714" stop-color="#d725a2"/><stop offset="0.762" stop-color="#db1f9e"/><stop offset="0.81" stop-color="#de1c9c"/><stop offset="0.857" stop-color="#de1b9a"/><stop offset="0.905" stop-color="#de1b99"/><stop offset="0.952" stop-color="#e11995"/><stop offset="1" stop-color="#e31890"/></linearGradient>
<linearGradient id="g107" gradientUnits="userSpaceOnUse" x1="207" x2="361" y1="0" y2="0"><stop offset="0" stop-color="#4babe6"/><stop offset="0.05" stop-color="#4396df"/><stop offset="0.1" stop-color="#3f88d8"/><stop offset="0.15" stop-color="#3e7ed4"/><stop offset="0.2" stop-color="#3d70cf"/><stop offset="0.25" stop-color="#4164ca"/><stop offset="0.3" stop-color="#4758c3"/><stop offset="0.35" stop-color="#544ebe"/><stop offset="0.4" stop-color="#6a49bb"/><stop offset="0.45" stop-color="#8346b9"/><stop offset="0.5" stop-color="#9a43b7"/><stop offset="0.55" stop-color="#af3eb5"/><stop offset="0.6" stop-color="#bf37b0"/><stop offset="0.65" stop-color="#cb30ab"/><stop offset="0.7" stop-color="#d229a6"/><stop offset="0.75" stop-color="#d723a1"/><stop offset="0.8" stop-color="#db1e9e"/><stop offset="0.85" stop-color="#dc1c9c"/><stop offset="0.9" stop-color="#dd1b9b"/><stop offset="0.95" stop-color="#de1b99"/><stop offset="1" stop-color="#e11995"/></linearGradient>
<linearGradient id="g108" gradientUnits="userSpaceOnUse" x1="208" x2="355" y1="0" y2="0"><stop offset="0" stop-color="#48a3e4"/><stop offset="0.053" stop-color="#408cdb"/><stop offset="0.105" stop-color="#3d80d5"/><stop offset="0.158" stop-color="#3c75cf"/><stop offset="0.211" stop-color="#3b67cb"/><stop offset="0.263" stop-color="#405cc5"/><stop offset="0.316" stop-color="#4952c0"/><stop offset="0.368" stop-color="#594abc"/><stop offset="0.421" stop-color="#7146b9"/><stop offset="0.474" stop-color="#8843b8"/><stop offset="0.526" stop-color="#9f3fb6"/><stop offset="0.579" stop-color="#b23bb3"/><stop offset="0.632" stop-color="#c134ae"/><stop offset="0.684" stop-color="#cb2da9"/><stop offset="0.737" stop-color="#d127a5"/><stop offset="0.789" stop-color="#d622a1"/><stop offset="0.842" stop-color="#da1e9e"/><stop offset="0.895" stop-color="#db1c9c"/><stop offset="0.947" stop-color="#dc1b9b"/><stop offset="1" stop-color="#de1b99"/></linearGradient>
<linearGradient id="g109" gradientUnits="userSpaceOnUse" x1="209" x2="349" y1="0" y2="0"><stop offset="0" stop-color="#459ce1"/><stop offset="0.056" stop-color="#3d85d8"/><stop offset="0.111" stop-color="#3b79d0"/><stop offset="0.167" stop-color="#3a6ccb"/><stop offset="0.222" stop-color="#3a5fc6"/><stop offset="0.278" stop-color="#4156c2"/><stop offset="0.333" stop-color="#4d4dbd"/><stop offset="0.389" stop-color="#6047ba"/><stop offset="0.444" stop-color="#7743b8"/><stop offset="0.5" stop-color="#8e40b6"/><stop offset="0.556" stop-color="#a33cb4"/><stop offset="0.611" stop-color="#b437b1"/><stop offset="0.667" stop-color="#c231ac"/><stop offset="0.722" stop-color="#cb2ba8"/><stop offset="0.778" stop-color="#d125a4"/><stop offset="0.833" stop-color="#d521a0"/><stop offset="0.889" stop-color="#d91d9e"/><stop offset="0.944" stop-color="#da1b9c"/><stop offset="1" stop-color="#db1b9b"/></linearGradient>
<linearGradient id="g110" gradientUnits="userSpaceOnUse" x1="211" x2="343" y1="0" y2="0"><stop offset="0" stop-color="#4192dd"/><stop offset="0.059" stop-color="#3b7ed4"/><stop offset="0.118" stop-color="#396fcb"/><stop offset="0.176" stop-color="#3863c6"/><stop offset="0.235" stop-color="#3957c2"/><stop offset="0.294" stop-color="#4550be"/><stop offset="0.353" stop-color="#5448ba"/><stop offset="0.412" stop-color="#6944b7"/><stop offset="0.471" stop-color="#8040b6"/><stop offset="0.529" stop-color="#953db5"/><stop offset="0.588" stop-color="#a739b2"/><stop offset="0.647" stop-color="#b734af"/><stop offset="0.706" stop-color="#c42eaa"/><stop offset="0.765" stop-color="#cb29a6"/><stop offset="0.824" stop-color="#d124a3"/><stop offset="0.882" stop-color="#d51fa0"/><stop offset="0.941" stop-color="#d81d9e"/><stop offset="1" stop-color="#d91b9c"/></linearGradient>
<linearGradient id="g111" gradientUnits="userSpaceOnUse" x1="212" x2="337" y1="0" y2="0"><stop offset="0" stop-color="#3f8bda"/><stop offset="0.062" stop-color="#3a78d0"/><stop offset="0.125" stop-color="#3767c6"/><stop offset="0.188" stop-color="#375cc1"/><stop offset="0.25" stop-color="#3a51be"/><stop offset="0.312" stop-color="#494bba"/><stop offset="0.375" stop-color="#5a45b8"/><stop offset="0.438" stop-color="#7041b6"/><stop offset="0.5" stop-color="#863eb4"/><stop offset="0.562" stop-color="#993ab3"/><stop offset="0.625" stop-color="#aa36b0"/><stop offset="0.688" stop-color="#b831ad"/><stop offset="0.75" stop-color="#c42ca9"/><stop offset="0.812" stop-color="#cb27a5"/><stop offset="0.875" stop-color="#d022a2"/><stop offset="0.938" stop-color="#d41f9f"/><stop offset="1" stop-color="#d71c9e"/></linearGradient>
<linearGradient id="g112" gradientUnits="userSpaceOnUse" x1="213" x2="331" y1="0" y2="0"><stop offset="0" stop-color="#3d85d7"/><stop offset="0.067" stop-color="#3870cb"/><stop offset="0.133" stop-color="#3660c1"/><stop offset="0.2" stop-color="#3855bd"/><stop offset="0.267" stop-color="#3e4dba"/><stop offset="0.333" stop-color="#4f47b8"/><stop offset="0.4" stop-color="#6242b5"/><stop offset="0.467" stop-color="#773fb4"/><stop offset="0.533" stop-color="#8c3bb3"/><stop offset="0.6" stop-color="#9e38b1"/><stop offset="0.667" stop-color="#ad33af"/><stop offset="0.733" stop-color="#ba2fab"/><stop offset="0.8" stop-color="#c42aa7"/><stop offset="0.867" stop-color="#ca25a4"/><stop offset="0.933" stop-color="#cf21a1"/><stop offset="1" stop-color="#d41e9f"/></linearGradient>
<linearGradient id="g113" gradientUnits="userSpaceOnUse" x1="214" x2="325" y1="0" y2="0"><stop offset="0" stop-color="#3b7fd3"/><stop offset="0.071" stop-color="#3667c5"/><stop offset="0.143" stop-color="#3659bc"/><stop offset="0.214" stop-color="#3950b9"/><stop offset="0.286" stop-color="#4349b7"/><stop offset="0.357" stop-color="#5544b5"/><stop offset="0.429" stop-color="#6940b3"/><stop offset="0.5" stop-color="#7f3cb2"/><stop offset="0.571" stop-color="#9139b1"/><stop offset="0.643" stop-color="#a135b0"/><stop offset="0.714" stop-color="#af31ad"/><stop offset="0.786" stop-color="#bb2ca9"/><stop offset="0.857" stop-color="#c328a6"/><stop offset="0.929" stop-color="#ca24a3"/><stop offset="1" stop-color="#cf20a1"/></linearGradient>
<linearGradient id="g114" gradientUnits="userSpaceOnUse" x1="216" x2="319" y1="0" y2="0"><stop offset="0" stop-color="#3974cd"/><stop offset="0.077" stop-color="#345cbc"/><stop offset="0.154" stop-color="#3752b7"/><stop offset="0.231" stop-color="#3d4bb6"/><stop offset="0.308" stop-color="#4a45b4"/><stop offset="0.385" stop-color="#5d41b3"/><stop offset="0.462" stop-color="#723db2"/><stop offset="0.538" stop-color="#873ab1"/><stop offset="0.615" stop-color="#9736b0"/><stop offset="0.692" stop-color="#a532ae"/><stop offset="0.769" stop-color="#b12eab"/><stop offset="0.846" stop-color="#bc2aa7"/><stop offset="0.923" stop-color="#c327a5"/><stop offset="1" stop-color="#ca23a3"/></linearGradient>
<linearGradient id="g115" gradientUnits="userSpaceOnUse" x1="217" x2="313" y1="0" y2="0"><stop offset="0" stop-color="#376cc7"/><stop offset="0.083" stop-color="#3454b7"/><stop offset="0.167" stop-color="#394db4"/><stop offset="0.25" stop-color="#4147b2"/><stop offset="0.333" stop-color="#5043b1"/><stop offset="0.417" stop-color="#643fb1"/><stop offset="0.5" stop-color="#793bb0"/><stop offset="0.583" stop-color="#8c37af"/><stop offset="0.667" stop-color="#9b33ae"/><stop offset="0.75" stop-color="#a830ad"/><stop offset="0.833" stop-color="#b32caa"/><stop offset="0.917" stop-color="#bc29a6"/><stop offset="1" stop-color="#c326a4"/></linearGradient>
<linearGradient id="g116" gradientUnits="userSpaceOnUse" x1="218" x2="307" y1="0" y2="0"><stop offset="0" stop-color="#3665c2"/><stop offset="0.083" stop-color="#3451b4"/><stop offset="0.167" stop-color="#3a4ab1"/><stop offset="0.25" stop-color="#4345b0"/><stop offset="0.333" stop-color="#5141af"/><stop offset="0.417" stop-color="#633eaf"/><stop offset="0.5" stop-color="#773baf"/><stop offset="0.583" stop-color="#8837ae"/><stop offset="0.667" stop-color="#9633ae"/><stop offset="0.75" stop-color="#a230ad"/><stop offset="0.833" stop-color="#ac2dab"/><stop offset="0.917" stop-color="#b52aa8"/><stop offset="1" stop-color="#bc28a5"/></linearGradient>
<linearGradient id="g117" gradientUnits="userSpaceOnUse" x1="220" x2="301" y1="0" y2="0"><stop offset="0" stop-color="#355bbb"/><stop offset="0.091" stop-color="#364db1"/><stop offset="0.182" stop-color="#3d46ae"/><stop offset="0.273" stop-color="#4942ae"/><stop offset="0.364" stop-color="#583fad"/><stop offset="0.455" stop-color="#6a3cae"/><stop offset="0.545" stop-color="#7d38ae"/><stop offset="0.636" stop-color="#8d34ad"/><stop offset="0.727" stop-color="#9a31ad"/><stop offset="0.818" stop-color="#a52eab"/><stop offset="0.909" stop-color="#ae2caa"/><stop offset="1" stop-color="#b629a7"/></linearGradient>
<linearGradient id="g118" gradientUnits="userSpaceOnUse" x1="222" x2="295" y1="0" y2="0"><stop offset="0" stop-color="#3554b6"/><stop offset="0.1" stop-color="#3849ae"/><stop offset="0.2" stop-color="#4243ab"/><stop offset="0.3" stop-color="#4f40ac"/><stop offset="0.4" stop-color="#603dab"/><stop offset="0.5" stop-color="#723aac"/><stop offset="0.6" stop-color="#8336ad"/><stop offset="0.7" stop-color="#9231ac"/><stop offset="0.8" stop-color="#9d2fac"/><stop offset="0.9" stop-color="#a72daa"/><stop offset="1" stop-color="#af2aa9"/></linearGradient>
<linearGradient id="g119" gradientUnits="userSpaceOnUse" x1="223" x2="289" y1="0" y2="0"><stop offset="0" stop-color="#3550b3"/><stop offset="0.111" stop-color="#3a46ab"/><stop offset="0.222" stop-color="#4741a9"/><stop offset="0.333" stop-color="#553eaa"/><stop offset="0.444" stop-color="#653baa"/><stop offset="0.556" stop-color="#7738ab"/><stop offset="0.667" stop-color="#8833ac"/><stop offset="0.778" stop-color="#962fab"/><stop offset="0.889" stop-color="#a02dab"/><stop offset="1" stop-color="#a82baa"/></linearGradient>
<linearGradient id="g120" gradientUnits="userSpaceOnUse" x1="225" x2="283" y1="0" y2="0"><stop offset="0" stop-color="#374baf"/><stop offset="0.125" stop-color="#3f42a8"/><stop offset="0.25" stop-color="#4e3fa8"/><stop offset="0.375" stop-color="#5b3ca9"/><stop offset="0.5" stop-color="#6c39a9"/><stop offset="0.625" stop-color="#7d35ab"/><stop offset="0.75" stop-color="#8d31ab"/><stop offset="0.875" stop-color="#992daa"/><stop offset="1" stop-color="#a22caa"/></linearGradient>
<linearGradient id="g121" gradientUnits="userSpaceOnUse" x1="228" x2="277" y1="0" y2="0"><stop offset="0" stop-color="#3b45aa"/><stop offset="0.143" stop-color="#483fa6"/><stop offset="0.286" stop-color="#553da7"/><stop offset="0.429" stop-color="#633aa8"/><stop offset="0.571" stop-color="#7337a9"/><stop offset="0.714" stop-color="#8333aa"/><stop offset="0.857" stop-color="#912faa"/><stop offset="1" stop-color="#9c2caa"/></linearGradient>
<linearGradient id="g122" gradientUnits="userSpaceOnUse" x1="230" x2="270" y1="0" y2="0"><stop offset="0" stop-color="#4141a7"/><stop offset="0.2" stop-color="#523da6"/><stop offset="0.4" stop-color="#5f3ba7"/><stop offset="0.6" stop-color="#7037a8"/><stop offset="0.8" stop-color="#8233a9"/><stop offset="1" stop-color="#922eaa"/></linearGradient>
<linearGradient id="g123" gradientUnits="userSpaceOnUse" x1="233" x2="264" y1="0" y2="0"><stop offset="0" stop-color="#4b3ea5"/><stop offset="0.25" stop-color="#593ba5"/><stop offset="0.5" stop-color="#6739a6"/><stop offset="0.75" stop-color="#7835a8"/><stop offset="1" stop-color="#8831a9"/></linearGradient>
<linearGradient id="g124" gradientUnits="userSpaceOnUse" x1="235" x2="258" y1="0" y2="0"><stop offset="0" stop-color="#533ca5"/><stop offset="0.333" stop-color="#5f3ba5"/><stop offset="0.667" stop-color="#6d37a6"/><stop offset="1" stop-color="#7d33a8"/></linearGradient>
<linearGradient id="g125" gradientUnits="userSpaceOnUse" x1="238" x2="252" y1="0" y2="0"><stop offset="0" stop-color="#5b3aa5"/><stop offset="0.5" stop-color="#6539a5"/><stop offset="1" stop-color="#7335a6"/></linearGradient>
<linearGradient id="g126" gradientUnits="userSpaceOnUse" x1="240" x2="246" y1="0" y2="0"><stop offset="0" stop-color="#6139a5"/><stop offset="1" stop-color="#6a37a5"/></linearGradient>
<clipPath id="loc"><path d="M243.3 310.3 L243.3 310.3 L243.3 310.3 L243.3 310.3 L243.2 310.3 L243.2 310.3 L243.2 310.3 L243.1 310.3 L243.1 310.3 L243.0 310.3 L243.0 310.4 L242.9 310.4 L242.9 310.4 L242.8 310.4 L242.8 310.3 L242.7 310.4 L242.6 310.4 L242.5 310.4 L242.4 310.3 L242.3 310.3 L242.2 310.3 L242.0 310.1 L241.9 310.0 L241.7 309.8 L241.5 309.6 L241.3 309.4 L241.0 309.1 L240.7 308.8 L240.3 308.5 L239.9 308.2 L239.5 307.8 L239.1 307.4 L238.5 306.9 L237.9 306.4 L237.2 305.9 L236.4 305.3 L235.5 304.6 L234.6 303.9 L233.6 303.1 L232.4 302.2 L231.2 301.1 L229.8 300.1 L228.3 298.8 L226.6 297.2 L224.6 295.2 L222.5 292.7 L220.1 289.7 L217.6 286.0 L214.7 281.6 L211.6 276.3 L208.2 270.1 L204.5 262.7 L200.5 254.3 L196.4 244.5 L192.4 233.4 L188.4 221.1 L184.4 207.5 L180.6 193.1 L177.4 178.0 L174.8 162.8 L173.0 147.7 L171.8 133.1 L171.5 119.2 L172.1 106.2 L173.6 94.3 L176.1 83.8 L179.6 74.9 L184.2 67.9 L189.5 62.9 L195.4 59.8 L201.8 58.5 L208.4 58.7 L215.2 59.9 L222.1 61.9 L229.0 64.3 L235.7 67.0 L242.3 69.8 L248.7 72.8 L255.0 75.9 L261.2 79.1 L267.4 82.5 L273.5 86.1 L279.6 89.7 L285.7 93.5 L291.7 97.3 L297.8 101.2 L303.8 105.2 L309.8 109.3 L315.9 113.4 L321.9 117.5 L328.0 121.7 L334.0 125.9 L340.0 130.1 L346.0 134.3 L352.0 138.5 L357.9 142.7 L363.8 146.9 L369.7 151.1 L375.5 155.2 L381.2 159.3 L386.8 163.3 L392.4 167.2 L397.8 171.1 L403.1 174.9 L408.3 178.6 L413.3 182.1 L418.2 185.6 L422.8 188.9 L427.2 192.0 L431.3 194.9 L435.2 197.7 L439.0 200.4 L442.6 203.0 L446.0 205.3 L449.1 207.5 L452.0 209.5 L454.6 211.4 L457.1 213.1 L459.3 214.7 L461.3 216.2 L463.2 217.5 L464.9 218.7 L466.4 219.7 L467.8 220.7 L469.1 221.7 L470.3 222.5 L471.4 223.3 L472.5 224.0 L473.4 224.7 L474.3 225.4 L475.2 226.0 L475.9 226.5 L476.6 227.0 L477.2 227.4 L477.8 227.8 L478.3 228.1 L478.7 228.5 L479.1 228.7 L479.5 229.0 L479.8 229.2 L480.1 229.4 L480.4 229.6 L480.6 229.8 L480.8 229.9 L481.0 230.0 L481.1 230.1 L481.3 230.3 L481.5 230.4 L481.6 230.5 L481.8 230.6 L481.9 230.7 L482.0 230.8 L482.1 230.8 L482.3 230.9 L482.4 231.0 L482.5 231.1 L482.5 231.1 L482.6 231.2 L482.7 231.2 L482.7 231.2 L482.8 231.3 L482.8 231.3 Z"/></clipPath></defs>
<g clip-path="url(#loc)" shape-rendering="crispEdges"><rect x="193" y="58" width="24" height="2" fill="url(#g0)"/>
<rect x="189" y="60" width="35" height="2" fill="url(#g1)"/>
<rect x="186" y="62" width="44" height="2" fill="url(#g2)"/>
<rect x="184" y="64" width="51" height="2" fill="url(#g3)"/>
<rect x="182" y="66" width="58" height="2" fill="url(#g4)"/>
<rect x="181" y="68" width="64" height="2" fill="url(#g5)"/>
<rect x="179" y="70" width="70" height="2" fill="url(#g6)"/>
<rect x="178" y="72" width="75" height="2" fill="url(#g7)"/>
<rect x="177" y="74" width="80" height="2" fill="url(#g8)"/>
<rect x="176" y="76" width="85" height="2" fill="url(#g9)"/>
<rect x="175" y="78" width="90" height="2" fill="url(#g10)"/>
<rect x="175" y="80" width="93" height="2" fill="url(#g11)"/>
<rect x="174" y="82" width="98" height="2" fill="url(#g12)"/>
<rect x="173" y="84" width="102" height="2" fill="url(#g13)"/>
<rect x="173" y="86" width="106" height="2" fill="url(#g14)"/>
<rect x="172" y="88" width="110" height="2" fill="url(#g15)"/>
<rect x="172" y="90" width="113" height="2" fill="url(#g16)"/>
<rect x="172" y="92" width="117" height="2" fill="url(#g17)"/>
<rect x="171" y="94" width="121" height="2" fill="url(#g18)"/>
<rect x="171" y="96" width="124" height="2" fill="url(#g19)"/>
<rect x="171" y="98" width="127" height="2" fill="url(#g20)"/>
<rect x="171" y="100" width="130" height="2" fill="url(#g21)"/>
<rect x="170" y="102" width="134" height="2" fill="url(#g22)"/>
<rect x="170" y="104" width="137" height="2" fill="url(#g23)"/>
<rect x="170" y="106" width="140" height="2" fill="url(#g24)"/>
<rect x="170" y="108" width="143" height="2" fill="url(#g25)"/>
<rect x="170" y="110" width="146" height="2" fill="url(#g26)"/>
<rect x="170" y="112" width="149" height="2" fill="url(#g27)"/>
<rect x="170" y="114" width="152" height="2" fill="url(#g28)"/>
<rect x="170" y="116" width="155" height="2" fill="url(#g29)"/>
<rect x="170" y="118" width="158" height="2" fill="url(#g30)"/>
<rect x="170" y="120" width="160" height="2" fill="url(#g31)"/>
<rect x="170" y="122" width="163" height="2" fill="url(#g32)"/>
<rect x="170" y="124" width="166" height="2" fill="url(#g33)"/>
<rect x="170" y="126" width="169" height="2" fill="url(#g34)"/>
<rect x="170" y="128" width="172" height="2" fill="url(#g35)"/>
<rect x="170" y="130" width="175" height="2" fill="url(#g36)"/>
<rect x="170" y="132" width="178" height="2" fill="url(#g37)"/>
<rect x="170" y="134" width="180" height="2" fill="url(#g38)"/>
<rect x="170" y="136" width="183" height="2" fill="url(#g39)"/>
<rect x="170" y="138" width="186" height="2" fill="url(#g40)"/>
<rect x="170" y="140" width="189" height="2" fill="url(#g41)"/>
<rect x="170" y="142" width="192" height="2" fill="url(#g42)"/>
<rect x="171" y="144" width="194" height="2" fill="url(#g43)"/>
<rect x="171" y="146" width="196" height="2" fill="url(#g44)"/>
<rect x="171" y="148" width="199" height="2" fill="url(#g45)"/>
<rect x="171" y="150" width="202" height="2" fill="url(#g46)"/>
<rect x="171" y="152" width="205" height="2" fill="url(#g47)"/>
<rect x="172" y="154" width="207" height="2" fill="url(#g48)"/>
<rect x="172" y="156" width="209" height="2" fill="url(#g49)"/>
<rect x="172" y="158" width="212" height="2" fill="url(#g50)"/>
<rect x="172" y="160" width="215" height="2" fill="url(#g51)"/>
<rect x="173" y="162" width="217" height="2" fill="url(#g52)"/>
<rect x="173" y="164" width="220" height="2" fill="url(#g53)"/>
<rect x="173" y="166" width="222" height="2" fill="url(#g54)"/>
<rect x="174" y="168" width="224" height="2" fill="url(#g55)"/>
<rect x="174" y="170" width="227" height="2" fill="url(#g56)"/>
<rect x="174" y="172" width="230" height="2" fill="url(#g57)"/>
<rect x="175" y="174" width="232" height="2" fill="url(#g58)"/>
<rect x="175" y="176" width="235" height="2" fill="url(#g59)"/>
<rect x="175" y="178" width="237" height="2" fill="url(#g60)"/>
<rect x="176" y="180" width="239" height="2" fill="url(#g61)"/>
<rect x="176" y="182" width="242" height="2" fill="url(#g62)"/>
<rect x="177" y="184" width="244" height="2" fill="url(#g63)"/>
<rect x="177" y="186" width="247" height="2" fill="url(#g64)"/>
<rect x="177" y="188" width="249" height="2" fill="url(#g65)"/>
<rect x="178" y="190" width="251" height="2" fill="url(#g66)"/>
<rect x="178" y="192" width="254" height="2" fill="url(#g67)"/>
<rect x="179" y="194" width="256" height="2" fill="url(#g68)"/>
<rect x="179" y="196" width="259" height="2" fill="url(#g69)"/>
<rect x="180" y="198" width="260" height="2" fill="url(#g70)"/>
<rect x="180" y="200" width="263" height="2" fill="url(#g71)"/>
<rect x="181" y="202" width="265" height="2" fill="url(#g72)"/>
<rect x="181" y="204" width="268" height="2" fill="url(#g73)"/>
<rect x="182" y="206" width="270" height="2" fill="url(#g74)"/>
<rect x="183" y="208" width="272" height="2" fill="url(#g75)"/>
<rect x="183" y="210" width="274" height="2" fill="url(#g76)"/>
<rect x="184" y="212" width="276" height="2" fill="url(#g77)"/>
<rect x="184" y="214" width="279" height="2" fill="url(#g78)"/>
<rect x="185" y="216" width="281" height="2" fill="url(#g79)"/>
<rect x="185" y="218" width="284" height="2" fill="url(#g80)"/>
<rect x="186" y="220" width="286" height="2" fill="url(#g81)"/>
<rect x="187" y="222" width="287" height="2" fill="url(#g82)"/>
<rect x="187" y="224" width="290" height="2" fill="url(#g83)"/>
<rect x="188" y="226" width="292" height="2" fill="url(#g84)"/>
<rect x="189" y="228" width="294" height="2" fill="url(#g85)"/>
<rect x="189" y="230" width="295" height="2" fill="url(#g86)"/>
<rect x="190" y="232" width="293" height="2" fill="url(#g87)"/>
<rect x="191" y="234" width="285" height="2" fill="url(#g88)"/>
<rect x="191" y="236" width="279" height="2" fill="url(#g89)"/>
<rect x="192" y="238" width="272" height="2" fill="url(#g90)"/>
<rect x="193" y="240" width="265" height="2" fill="url(#g91)"/>
<rect x="193" y="242" width="259" height="2" fill="url(#g92)"/>
<rect x="194" y="244" width="252" height="2" fill="url(#g93)"/>
<rect x="195" y="246" width="245" height="2" fill="url(#g94)"/>
<rect x="196" y="248" width="238" height="2" fill="url(#g95)"/>
<rect x="197" y="250" width="231" height="2" fill="url(#g96)"/>
<rect x="197" y="252" width="225" height="2" fill="url(#g97)"/>
<rect x="198" y="254" width="218" height="2" fill="url(#g98)"/>
<rect x="199" y="256" width="211" height="2" fill="url(#g99)"/>
<rect x="200" y="258" width="204" height="2" fill="url(#g100)"/>
<rect x="201" y="260" width="197" height="2" fill="url(#g101)"/>
<rect x="202" y="262" width="190" height="2" fill="url(#g102)"/>
<rect x="203" y="264" width="183" height="2" fill="url(#g103)"/>
<rect x="204" y="266" width="176" height="2" fill="url(#g104)"/>
<rect x="205" y="268" width="168" height="2" fill="url(#g105)"/>
<rect x="206" y="270" width="161" height="2" fill="url(#g106)"/>
<rect x="207" y="272" width="154" height="2" fill="url(#g107)"/>
<rect x="208" y="274" width="147" height="2" fill="url(#g108)"/>
<rect x="209" y="276" width="140" height="2" fill="url(#g109)"/>
<rect x="211" y="278" width="132" height="2" fill="url(#g110)"/>
<rect x="212" y="280" width="125" height="2" fill="url(#g111)"/>
<rect x="213" y="282" width="118" height="2" fill="url(#g112)"/>
<rect x="214" y="284" width="111" height="2" fill="url(#g113)"/>
<rect x="216" y="286" width="103" height="2" fill="url(#g114)"/>
<rect x="217" y="288" width="96" height="2" fill="url(#g115)"/>
<rect x="218" y="290" width="89" height="2" fill="url(#g116)"/>
<rect x="220" y="292" width="81" height="2" fill="url(#g117)"/>
<rect x="222" y="294" width="73" height="2" fill="url(#g118)"/>
<rect x="223" y="296" width="66" height="2" fill="url(#g119)"/>
<rect x="225" y="298" width="58" height="2" fill="url(#g120)"/>
<rect x="228" y="300" width="49" height="2" fill="url(#g121)"/>
<rect x="230" y="302" width="40" height="2" fill="url(#g122)"/>
<rect x="233" y="304" width="31" height="2" fill="url(#g123)"/>
<rect x="235" y="306" width="23" height="2" fill="url(#g124)"/>
<rect x="238" y="308" width="14" height="2" fill="url(#g125)"/>
<rect x="240" y="310" width="6" height="2" fill="url(#g126)"/></g>
<path d="M170.4 37.9 V309.4 H508.2 M170.4 309.4 v-5.2 M191.5 309.4 v-2.6 M212.6 309.4 v-5.2 M233.7 309.4 v-2.6 M254.9 309.4 v-5.2 M276.0 309.4 v-2.6 M297.1 309.4 v-5.2 M318.2 309.4 v-2.6 M339.3 309.4 v-5.2 M360.4 309.4 v-2.6 M381.6 309.4 v-5.2 M402.7 309.4 v-2.6 M423.8 309.4 v-5.2 M444.9 309.4 v-2.6 M466.0 309.4 v-5.2 M487.1 309.4 v-2.6 M508.2 309.4 v-5.2 M170.4 309.4 h5.2 M170.4 279.2 h2.6 M170.4 249.1 h5.2 M170.4 218.9 h2.6 M170.4 188.7 h5.2 M170.4 158.5 h2.6 M170.4 128.4 h5.2 M170.4 98.2 h2.6 M170.4 68.0 h5.2 M170.4 37.9 h5.2" fill="none" stroke="#231f20" stroke-width="1"/>
<path d="M199.4 51.7 L202.0 58.2 M267.7 82.1 L273.6 77.5 M328.4 122.2 L333.6 117.5 M386.3 163.7 L392.7 159.0 M434.9 198.1 L441.7 193.8 M462.4 216.9 L468.8 213.2 M164.6 147.9 L171.3 147.1 M202.2 272.5 L208.8 270.3 M218.0 298.1 L228.9 300.1" fill="none" stroke="#231f20" stroke-width="1"/>
<text class="c n" x="184.2" y="49.1">520</text>
<text class="c n" x="265.9" y="74.9">540</text>
<text class="c n" x="330.0" y="115.0">560</text>
<text class="c n" x="389.1" y="155.9">580</text>
<text class="c n" x="435.9" y="190.7">600</text>
<text class="c n" x="465.8" y="211.7">620</text>
<text class="c n" x="136.3" y="153.3">500</text>
<text class="c n" x="171.5" y="279.5">480</text>
<text class="c n" x="188.9" y="302.3">460</text>
<text class="c" x="95.6" y="25.8" textLength="76.6">CIE 1931</text>
<text class="c" x="162.5" y="74.0" text-anchor="end">0.8</text>
<text class="c" x="162.5" y="134.4" text-anchor="end">0.6</text>
<text class="c" x="162.5" y="194.7" text-anchor="end">0.4</text>
<text class="c" x="162.5" y="255.1" text-anchor="end">0.2</text>
<text class="c" x="162.5" y="315.4" text-anchor="end">0.0</text>
<text class="c" x="172.7" y="329.4" text-anchor="middle">0.0</text>
<text class="c" x="214.9" y="329.4" text-anchor="middle">0.1</text>
<text class="c" x="257.2" y="329.4" text-anchor="middle">0.2</text>
<text class="c" x="299.4" y="329.4" text-anchor="middle">0.3</text>
<text class="c" x="341.6" y="329.4" text-anchor="middle">0.4</text>
<text class="c" x="383.9" y="329.4" text-anchor="middle">0.5</text>
<text class="c" x="426.1" y="329.4" text-anchor="middle">0.6</text>
<text class="c" x="468.3" y="329.4" text-anchor="middle">0.7</text>
<text class="c" x="510.5" y="329.4" text-anchor="middle">0.8</text>
<text class="c i" x="336" y="351.3">x</text>
<text class="c i" transform="translate(123.5,179) rotate(-90)">y</text>
<circle cx="353.7" cy="170.6" r="2.9" fill="#231f20"/>
<circle cx="345.9" cy="173.2" r="2.9" fill="#231f20"/>
<circle cx="319.8" cy="180.1" r="2.9" fill="#231f20"/>
<circle cx="253.4" cy="235.4" r="2.9" fill="#231f20"/>
<circle cx="285.3" cy="248.0" r="2.9" fill="#231f20"/>
<circle cx="341.3" cy="209.0" r="2.9" fill="#231f20"/>
<circle cx="367.3" cy="182.7" r="2.9" fill="#231f20"/>
<circle cx="371.3" cy="173.0" r="2.9" fill="#231f20"/>
<text class="c" x="353.7" y="165.6">1</text>
<text class="c" x="337.3" y="168.7">2</text>
<text class="c" x="321.8" y="176.3">3</text>
<text class="c" x="255.0" y="232.2">4</text>
<text class="c" x="288.7" y="250.2">5</text>
<text class="c" x="344.5" y="212.7">6</text>
<text class="c" x="371.2" y="191.0">7</text>
<text class="c" x="375.5" y="174.5">8</text>
<text class="b" x="310.4" y="391" text-anchor="middle"><tspan class="k">图</tspan>6 <tspan class="k">样品在色度图上的坐标</tspan></text>
<text class="b" x="308.9" y="416.9" text-anchor="middle">Fig.6 Coordinates of the sample color on the</text>
<text class="b" x="308.7" y="443.6" text-anchor="middle">chrominance diagram</text>
<text class="b" x="10" y="487"><tspan class="k">表</tspan>2 <tspan class="k">样品颜色的具体坐标数值</tspan></text>
<text class="b" x="11" y="513.1" style="font-size:23.85px">Tab.2 Specific coordinate value of the sample color</text>
<path d="M9.8 527.6H608.4M9.8 659.9H608.4" stroke="#231f20" stroke-width="1.9" fill="none"/>
<path d="M9.8 571.6H608.4" stroke="#231f20" stroke-width="1" fill="none"/>
<text class="t" x="42.6" y="557" text-anchor="middle" style="font-size:20.4px">样本</text>
<text class="t i" x="42.6" y="600" text-anchor="middle">x</text>
<text class="t i" x="42.6" y="644" text-anchor="middle">y</text>
<text class="t" x="109.2" y="556" text-anchor="middle">1</text>
<text class="t" x="109.2" y="600" text-anchor="middle">0.43</text>
<text class="t" x="109.2" y="644" text-anchor="middle">0.46</text>
<text class="t" x="175.7" y="556" text-anchor="middle">2</text>
<text class="t" x="175.7" y="600" text-anchor="middle">0.42</text>
<text class="t" x="175.7" y="644" text-anchor="middle">0.46</text>
<text class="t" x="242.2" y="556" text-anchor="middle">3</text>
<text class="t" x="242.2" y="600" text-anchor="middle">0.35</text>
<text class="t" x="242.2" y="644" text-anchor="middle">0.44</text>
<text class="t" x="308.8" y="556" text-anchor="middle">4</text>
<text class="t" x="308.8" y="600" text-anchor="middle">0.20</text>
<text class="t" x="308.8" y="644" text-anchor="middle">0.24</text>
<text class="t" x="375.4" y="556" text-anchor="middle">5</text>
<text class="t" x="375.4" y="600" text-anchor="middle">0.27</text>
<text class="t" x="375.4" y="644" text-anchor="middle">0.23</text>
<text class="t" x="441.9" y="556" text-anchor="middle">6</text>
<text class="t" x="441.9" y="600" text-anchor="middle">0.41</text>
<text class="t" x="441.9" y="644" text-anchor="middle">0.34</text>
<text class="t" x="508.4" y="556" text-anchor="middle">7</text>
<text class="t" x="508.4" y="600" text-anchor="middle">0.47</text>
<text class="t" x="508.4" y="644" text-anchor="middle">0.43</text>
<text class="t" x="575.0" y="556" text-anchor="middle">8</text>
<text class="t" x="575.0" y="600" text-anchor="middle">0.47</text>
<text class="t" x="575.0" y="644" text-anchor="middle">0.46</text>
</svg></body></html>
